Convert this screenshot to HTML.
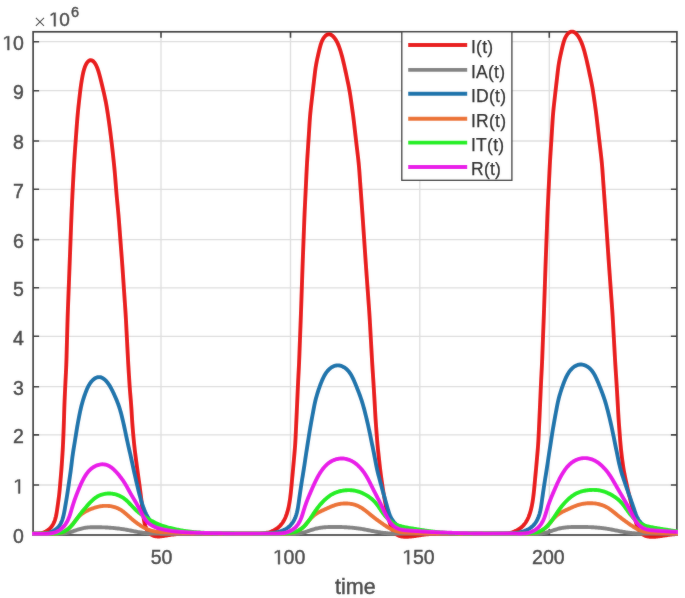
<!DOCTYPE html>
<html><head><meta charset="utf-8"><style>
html,body{margin:0;padding:0;background:#fff;overflow:hidden;}
body{width:685px;height:598px;font-family:"Liberation Sans", sans-serif;}
svg{display:block;will-change:transform;}
text{stroke:#404040;stroke-width:0.45px;}
.one{stroke:#404040;stroke-width:0.4px;vector-effect:non-scaling-stroke;}
</style></head><body>
<svg width="685" height="598" viewBox="0 0 685 598" font-family='"Liberation Sans", sans-serif' fill="#404040"><defs><filter id="fb" x="0" y="0" width="685" height="598" filterUnits="userSpaceOnUse"><feGaussianBlur stdDeviation="0.80"/></filter></defs><g id="main"><rect x="0" y="0" width="685" height="598" fill="#ffffff"/>
<path d="M33.10,485.00H676.90 M33.10,434.90H676.90 M33.10,386.70H676.90 M33.10,336.30H676.90 M33.10,287.80H676.90 M33.10,239.60H676.90 M33.10,189.30H676.90 M33.10,141.00H676.90 M33.10,90.70H676.90 M33.10,41.70H676.90 M161.00,31.80V535.00 M290.50,31.80V535.00 M419.80,31.80V535.00 M549.30,31.80V535.00" stroke="#dddddd" stroke-width="1.3" fill="none"/>
<path d="M33.10,533.90h6.00 M676.90,533.90h-6.00 M33.10,485.00h6.00 M676.90,485.00h-6.00 M33.10,434.90h6.00 M676.90,434.90h-6.00 M33.10,386.70h6.00 M676.90,386.70h-6.00 M33.10,336.30h6.00 M676.90,336.30h-6.00 M33.10,287.80h6.00 M676.90,287.80h-6.00 M33.10,239.60h6.00 M676.90,239.60h-6.00 M33.10,189.30h6.00 M676.90,189.30h-6.00 M33.10,141.00h6.00 M676.90,141.00h-6.00 M33.10,90.70h6.00 M676.90,90.70h-6.00 M33.10,41.70h6.00 M676.90,41.70h-6.00 M161.00,535.00v-6.00 M161.00,31.80v6.00 M290.50,535.00v-6.00 M290.50,31.80v6.00 M419.80,535.00v-6.00 M419.80,31.80v6.00 M549.30,535.00v-6.00 M549.30,31.80v6.00" stroke="#333333" stroke-width="1.6" fill="none"/>
<rect x="33.10" y="31.80" width="643.80" height="503.20" fill="none" stroke="#333333" stroke-width="1.7"/>
<clipPath id="c"><rect x="32.10" y="0" width="645.80" height="598"/></clipPath>
<path clip-path="url(#c)" d="M32.89,533.42L33.94,533.53L34.99,533.59L36.04,533.62L37.08,533.60L38.11,533.54L39.13,533.44L40.13,533.29L41.12,533.09L42.09,532.85L43.05,532.56L43.98,532.22L44.88,531.83L45.76,531.40L46.61,530.93L47.44,530.40L48.22,529.84L48.98,529.23L49.70,528.58L50.39,527.90L51.03,527.18L51.64,526.42L52.21,525.63L52.74,524.81L53.24,523.96L53.69,523.08L54.11,522.18L54.49,521.27L54.83,520.33L55.14,519.38L55.43,518.42L55.68,517.45L55.92,516.48L56.13,515.49L56.33,514.51L56.51,513.52L56.68,512.52L56.84,511.53L57.00,510.53L57.15,509.54L57.29,508.54L57.44,507.55L57.58,506.56L57.72,505.56L57.86,504.57L58.00,503.58L58.14,502.58L58.28,501.59L58.41,500.60L58.54,499.61L58.67,498.61L58.80,497.62L58.92,496.63L59.04,495.64L59.16,494.64L59.27,493.65L59.38,492.65L59.48,491.66L59.58,490.66L59.68,489.67L59.77,488.67L59.86,487.67L59.95,486.68L60.04,485.68L60.13,484.68L60.21,483.69L60.30,482.69L60.38,481.69L60.47,480.70L60.55,479.70L60.64,478.70L60.72,477.70L60.81,476.71L60.89,475.71L60.98,474.71L61.06,473.72L61.14,472.72L61.23,471.72L61.31,470.72L61.39,469.73L61.46,468.73L61.54,467.73L61.61,466.73L61.68,465.74L61.76,464.74L61.82,463.74L61.89,462.74L61.96,461.74L62.03,460.74L62.09,459.75L62.16,458.75L62.22,457.75L62.29,456.75L62.35,455.75L62.42,454.75L62.48,453.75L62.54,452.75L62.60,451.76L62.66,450.76L62.72,449.76L62.77,448.76L62.83,447.76L62.88,446.76L62.93,445.76L62.98,444.76L63.03,443.76L63.08,442.76L63.13,441.76L63.17,440.76L63.21,439.76L63.26,438.76L63.30,437.76L63.34,436.76L63.38,435.77L63.42,434.77L63.46,433.77L63.50,432.77L63.54,431.77L63.57,430.77L63.61,429.77L63.65,428.77L63.69,427.77L63.72,426.77L63.76,425.77L63.79,424.77L63.83,423.77L63.86,422.77L63.89,421.77L63.92,420.77L63.96,419.76L63.99,418.76L64.02,417.76L64.05,416.76L64.08,415.76L64.11,414.76L64.14,413.76L64.17,412.76L64.20,411.76L64.23,410.76L64.26,409.76L64.29,408.76L64.32,407.76L64.36,406.76L64.39,405.76L64.43,404.76L64.47,403.76L64.51,402.76L64.55,401.76L64.59,400.76L64.63,399.76L64.68,398.76L64.72,397.76L64.76,396.76L64.81,395.76L64.85,394.77L64.90,393.77L64.95,392.77L64.99,391.77L65.04,390.77L65.08,389.77L65.13,388.77L65.18,387.77L65.22,386.77L65.27,385.77L65.32,384.77L65.37,383.77L65.42,382.77L65.46,381.77L65.51,380.77L65.56,379.77L65.61,378.77L65.67,377.77L65.72,376.77L65.77,375.77L65.82,374.77L65.87,373.78L65.92,372.78L65.97,371.78L66.01,370.78L66.06,369.78L66.11,368.78L66.15,367.78L66.19,366.78L66.24,365.78L66.27,364.78L66.31,363.78L66.35,362.78L66.38,361.78L66.42,360.78L66.45,359.78L66.48,358.78L66.51,357.78L66.54,356.78L66.57,355.78L66.59,354.78L66.62,353.78L66.65,352.78L66.67,351.78L66.70,350.78L66.73,349.78L66.76,348.78L66.78,347.78L66.81,346.78L66.84,345.78L66.87,344.78L66.89,343.77L66.92,342.77L66.95,341.77L66.98,340.77L67.01,339.77L67.03,338.77L67.06,337.77L67.09,336.77L67.12,335.77L67.15,334.77L67.17,333.77L67.20,332.77L67.23,331.77L67.26,330.77L67.28,329.77L67.31,328.77L67.34,327.77L67.37,326.77L67.40,325.77L67.42,324.77L67.45,323.77L67.48,322.77L67.51,321.77L67.54,320.77L67.57,319.77L67.60,318.77L67.63,317.77L67.66,316.77L67.69,315.77L67.72,314.77L67.76,313.77L67.79,312.77L67.83,311.77L67.86,310.77L67.90,309.77L67.93,308.77L67.97,307.77L68.01,306.77L68.05,305.77L68.09,304.77L68.12,303.77L68.16,302.77L68.20,301.77L68.24,300.77L68.28,299.77L68.32,298.77L68.35,297.77L68.39,296.77L68.43,295.77L68.47,294.77L68.51,293.77L68.54,292.77L68.58,291.77L68.62,290.77L68.66,289.77L68.70,288.77L68.73,287.77L68.77,286.77L68.81,285.77L68.85,284.77L68.89,283.77L68.92,282.77L68.96,281.77L69.00,280.77L69.04,279.77L69.08,278.77L69.11,277.77L69.15,276.77L69.19,275.77L69.23,274.77L69.27,273.77L69.30,272.77L69.34,271.77L69.38,270.77L69.42,269.77L69.46,268.77L69.49,267.77L69.53,266.77L69.57,265.77L69.61,264.77L69.65,263.77L69.68,262.77L69.72,261.77L69.76,260.77L69.80,259.77L69.84,258.77L69.87,257.77L69.91,256.77L69.95,255.77L69.99,254.77L70.03,253.77L70.06,252.77L70.10,251.77L70.14,250.77L70.18,249.77L70.22,248.77L70.25,247.77L70.29,246.77L70.33,245.77L70.37,244.77L70.41,243.77L70.44,242.77L70.48,241.77L70.52,240.77L70.56,239.77L70.60,238.77L70.63,237.77L70.67,236.77L70.71,235.77L70.75,234.77L70.79,233.77L70.82,232.77L70.86,231.77L70.90,230.77L70.94,229.77L70.98,228.77L71.01,227.77L71.05,226.77L71.09,225.77L71.13,224.77L71.16,223.77L71.20,222.77L71.24,221.77L71.28,220.77L71.32,219.77L71.36,218.77L71.40,217.77L71.44,216.77L71.48,215.77L71.52,214.77L71.56,213.77L71.60,212.77L71.65,211.77L71.69,210.77L71.73,209.77L71.78,208.77L71.82,207.77L71.87,206.77L71.91,205.77L71.96,204.77L72.00,203.78L72.05,202.78L72.09,201.78L72.14,200.78L72.18,199.78L72.23,198.78L72.28,197.78L72.33,196.78L72.37,195.78L72.42,194.78L72.47,193.78L72.52,192.78L72.57,191.78L72.63,190.78L72.68,189.78L72.73,188.78L72.78,187.78L72.84,186.78L72.89,185.78L72.94,184.78L72.99,183.79L73.05,182.79L73.10,181.79L73.15,180.79L73.21,179.79L73.26,178.79L73.31,177.79L73.37,176.79L73.42,175.79L73.47,174.79L73.53,173.79L73.58,172.79L73.63,171.79L73.69,170.79L73.74,169.79L73.80,168.80L73.86,167.80L73.91,166.80L73.97,165.80L74.03,164.80L74.09,163.80L74.15,162.80L74.22,161.80L74.28,160.80L74.34,159.80L74.41,158.80L74.47,157.81L74.54,156.81L74.61,155.81L74.67,154.81L74.74,153.81L74.81,152.81L74.88,151.81L74.95,150.81L75.02,149.82L75.09,148.82L75.16,147.82L75.23,146.82L75.31,145.82L75.38,144.82L75.45,143.82L75.52,142.83L75.60,141.83L75.67,140.83L75.74,139.83L75.82,138.83L75.89,137.83L75.96,136.83L76.03,135.83L76.11,134.84L76.18,133.84L76.25,132.84L76.33,131.84L76.40,130.84L76.47,129.84L76.54,128.84L76.62,127.84L76.69,126.84L76.76,125.84L76.84,124.84L76.91,123.85L76.99,122.85L77.07,121.85L77.15,120.85L77.23,119.85L77.31,118.85L77.39,117.85L77.48,116.85L77.57,115.85L77.65,114.85L77.75,113.85L77.84,112.86L77.93,111.86L78.03,110.86L78.13,109.86L78.23,108.86L78.33,107.86L78.44,106.86L78.54,105.86L78.65,104.86L78.76,103.86L78.87,102.87L78.98,101.87L79.09,100.87L79.20,99.87L79.31,98.87L79.43,97.87L79.54,96.86L79.66,95.86L79.77,94.86L79.89,93.86L80.01,92.86L80.13,91.86L80.25,90.86L80.38,89.85L80.51,88.85L80.64,87.85L80.78,86.84L80.92,85.84L81.06,84.84L81.21,83.83L81.36,82.83L81.52,81.82L81.68,80.81L81.85,79.80L82.02,78.78L82.20,77.76L82.39,76.73L82.58,75.70L82.79,74.65L83.01,73.61L83.25,72.55L83.50,71.49L83.78,70.43L84.08,69.37L84.41,68.32L84.77,67.28L85.16,66.26L85.59,65.27L86.06,64.32L86.56,63.44L87.10,62.63L87.68,61.90L88.28,61.29L88.92,60.80L89.57,60.44L90.24,60.24L90.92,60.20L91.60,60.32L92.27,60.59L92.92,61.01L93.56,61.57L94.18,62.23L94.76,63.00L95.32,63.85L95.84,64.76L96.32,65.72L96.78,66.71L97.20,67.74L97.60,68.77L97.96,69.82L98.31,70.87L98.63,71.92L98.94,72.96L99.23,74.00L99.51,75.03L99.78,76.06L100.05,77.07L100.30,78.08L100.56,79.08L100.80,80.08L101.05,81.08L101.30,82.07L101.54,83.06L101.78,84.04L102.02,85.03L102.26,86.02L102.50,87.00L102.73,87.98L102.97,88.96L103.20,89.95L103.43,90.93L103.66,91.91L103.88,92.89L104.11,93.87L104.33,94.85L104.54,95.83L104.76,96.81L104.97,97.79L105.17,98.78L105.37,99.76L105.57,100.74L105.76,101.73L105.94,102.71L106.13,103.70L106.30,104.68L106.48,105.67L106.65,106.65L106.81,107.64L106.97,108.63L107.13,109.62L107.29,110.61L107.45,111.60L107.60,112.59L107.75,113.58L107.90,114.57L108.05,115.56L108.19,116.55L108.34,117.54L108.49,118.53L108.63,119.52L108.77,120.51L108.91,121.50L109.05,122.49L109.19,123.48L109.33,124.47L109.47,125.46L109.60,126.46L109.74,127.45L109.87,128.44L110.00,129.43L110.13,130.42L110.26,131.42L110.38,132.41L110.51,133.40L110.63,134.40L110.75,135.39L110.87,136.38L111.00,137.38L111.12,138.37L111.23,139.36L111.35,140.36L111.47,141.35L111.59,142.34L111.71,143.34L111.83,144.33L111.94,145.32L112.06,146.32L112.17,147.31L112.29,148.31L112.40,149.30L112.51,150.30L112.62,151.29L112.73,152.28L112.84,153.28L112.95,154.27L113.06,155.27L113.17,156.26L113.27,157.26L113.38,158.25L113.48,159.25L113.59,160.24L113.69,161.24L113.80,162.23L113.90,163.23L114.00,164.23L114.10,165.22L114.20,166.22L114.30,167.21L114.39,168.21L114.49,169.20L114.58,170.20L114.67,171.20L114.76,172.19L114.85,173.19L114.93,174.19L115.02,175.18L115.10,176.18L115.18,177.18L115.26,178.18L115.34,179.17L115.42,180.17L115.50,181.17L115.58,182.17L115.65,183.16L115.73,184.16L115.81,185.16L115.89,186.16L115.97,187.15L116.05,188.15L116.13,189.15L116.21,190.15L116.29,191.14L116.38,192.14L116.46,193.14L116.55,194.14L116.63,195.13L116.72,196.13L116.81,197.13L116.90,198.12L116.99,199.12L117.09,200.11L117.18,201.11L117.28,202.11L117.37,203.10L117.47,204.10L117.56,205.10L117.66,206.09L117.75,207.09L117.84,208.08L117.94,209.08L118.03,210.08L118.12,211.07L118.21,212.07L118.30,213.07L118.39,214.06L118.48,215.06L118.56,216.06L118.64,217.05L118.73,218.05L118.81,219.05L118.88,220.05L118.96,221.04L119.04,222.04L119.12,223.04L119.19,224.04L119.27,225.04L119.34,226.03L119.42,227.03L119.49,228.03L119.57,229.03L119.64,230.02L119.72,231.02L119.80,232.02L119.87,233.02L119.95,234.02L120.02,235.01L120.10,236.01L120.17,237.01L120.25,238.01L120.32,239.00L120.40,240.00L120.48,241.00L120.55,242.00L120.63,243.00L120.70,243.99L120.78,244.99L120.86,245.99L120.93,246.99L121.01,247.98L121.08,248.98L121.16,249.98L121.24,250.98L121.31,251.98L121.39,252.97L121.46,253.97L121.54,254.97L121.62,255.97L121.69,256.96L121.77,257.96L121.84,258.96L121.92,259.96L121.99,260.96L122.07,261.95L122.14,262.95L122.21,263.95L122.28,264.95L122.36,265.95L122.43,266.94L122.50,267.94L122.57,268.94L122.64,269.94L122.71,270.94L122.77,271.94L122.84,272.93L122.91,273.93L122.98,274.93L123.05,275.93L123.11,276.93L123.18,277.93L123.25,278.92L123.32,279.92L123.38,280.92L123.45,281.92L123.52,282.92L123.59,283.92L123.65,284.91L123.72,285.91L123.79,286.91L123.86,287.91L123.93,288.91L123.99,289.91L124.06,290.90L124.13,291.90L124.20,292.90L124.27,293.90L124.33,294.90L124.40,295.90L124.47,296.89L124.54,297.89L124.61,298.89L124.67,299.89L124.74,300.89L124.81,301.89L124.88,302.88L124.95,303.88L125.02,304.88L125.09,305.88L125.15,306.88L125.22,307.88L125.29,308.87L125.35,309.87L125.42,310.87L125.48,311.87L125.55,312.87L125.61,313.87L125.67,314.87L125.73,315.87L125.79,316.86L125.84,317.86L125.90,318.86L125.95,319.86L126.01,320.86L126.06,321.86L126.11,322.86L126.17,323.86L126.22,324.86L126.27,325.86L126.32,326.86L126.37,327.86L126.42,328.85L126.47,329.85L126.53,330.85L126.58,331.85L126.63,332.85L126.68,333.85L126.73,334.85L126.78,335.85L126.84,336.85L126.89,337.85L126.94,338.85L126.99,339.85L127.04,340.85L127.10,341.85L127.15,342.85L127.20,343.84L127.25,344.84L127.30,345.84L127.36,346.84L127.41,347.84L127.46,348.84L127.51,349.84L127.56,350.84L127.61,351.84L127.66,352.84L127.72,353.84L127.77,354.84L127.82,355.84L127.87,356.84L127.92,357.84L127.98,358.83L128.03,359.83L128.08,360.83L128.14,361.83L128.19,362.83L128.25,363.83L128.31,364.83L128.37,365.83L128.43,366.83L128.49,367.83L128.55,368.82L128.61,369.82L128.67,370.82L128.73,371.82L128.79,372.82L128.86,373.82L128.92,374.82L128.98,375.82L129.05,376.81L129.11,377.81L129.18,378.81L129.24,379.81L129.30,380.81L129.37,381.81L129.43,382.81L129.50,383.80L129.57,384.80L129.63,385.80L129.70,386.80L129.77,387.80L129.85,388.80L129.92,389.79L130.00,390.79L130.08,391.79L130.16,392.79L130.24,393.78L130.32,394.78L130.41,395.78L130.49,396.77L130.57,397.77L130.66,398.77L130.74,399.77L130.82,400.76L130.91,401.76L130.98,402.76L131.06,403.76L131.14,404.75L131.21,405.75L131.28,406.75L131.35,407.75L131.42,408.75L131.48,409.74L131.54,410.74L131.60,411.74L131.67,412.74L131.72,413.74L131.78,414.74L131.84,415.74L131.90,416.74L131.96,417.74L132.02,418.73L132.09,419.73L132.15,420.73L132.21,421.73L132.28,422.73L132.35,423.73L132.43,424.72L132.50,425.72L132.58,426.72L132.66,427.72L132.74,428.71L132.82,429.71L132.90,430.71L132.99,431.71L133.08,432.70L133.16,433.70L133.25,434.70L133.34,435.69L133.43,436.69L133.53,437.69L133.62,438.68L133.71,439.68L133.81,440.67L133.90,441.67L134.00,442.67L134.10,443.66L134.20,444.66L134.31,445.65L134.42,446.65L134.53,447.64L134.64,448.64L134.75,449.63L134.87,450.62L134.99,451.62L135.11,452.61L135.23,453.60L135.36,454.60L135.48,455.59L135.61,456.58L135.74,457.57L135.87,458.57L136.00,459.56L136.13,460.55L136.26,461.54L136.40,462.53L136.53,463.53L136.66,464.52L136.80,465.51L136.93,466.50L137.07,467.49L137.20,468.48L137.34,469.47L137.48,470.47L137.61,471.46L137.75,472.45L137.88,473.44L138.02,474.43L138.16,475.42L138.29,476.41L138.43,477.40L138.57,478.40L138.70,479.39L138.83,480.38L138.97,481.37L139.10,482.36L139.23,483.35L139.36,484.35L139.50,485.34L139.63,486.33L139.76,487.32L139.89,488.32L140.02,489.31L140.14,490.30L140.27,491.29L140.40,492.28L140.53,493.28L140.66,494.27L140.78,495.26L140.91,496.26L141.04,497.25L141.16,498.24L141.28,499.23L141.41,500.23L141.53,501.22L141.65,502.21L141.77,503.21L141.89,504.20L142.01,505.19L142.12,506.19L142.24,507.18L142.36,508.18L142.48,509.17L142.60,510.17L142.72,511.16L142.84,512.16L142.97,513.15L143.09,514.15L143.22,515.15L143.36,516.15L143.50,517.14L143.65,518.14L143.81,519.14L143.98,520.14L144.17,521.14L144.37,522.14L144.59,523.13L144.82,524.12L145.09,525.10L145.38,526.07L145.70,527.03L146.06,527.96L146.46,528.87L146.89,529.76L147.37,530.60L147.90,531.41L148.47,532.17L149.09,532.88L149.76,533.53L150.47,534.12L151.23,534.64L152.03,535.10L152.87,535.49L153.74,535.81L154.65,536.06L155.58,536.25L156.53,536.37L157.50,536.44L158.48,536.46L159.48,536.43L160.48,536.36L161.48,536.26L162.49,536.13L163.50,535.98L164.50,535.82L165.51,535.65L166.51,535.47L167.51,535.30L168.51,535.13L169.51,534.97L170.51,534.82L171.50,534.68L172.50,534.56L173.49,534.44L174.49,534.34L175.48,534.26L176.48,534.18L177.48,534.12L178.48,534.06L179.48,534.02L180.48,533.98L181.48,533.95L182.48,533.92L183.48,533.90L184.48,533.88L185.48,533.86L186.48,533.85L187.48,533.84L188.48,533.83L189.48,533.82L190.48,533.81L191.48,533.80L192.48,533.79L193.49,533.78L194.49,533.78L195.49,533.77L196.49,533.77L197.49,533.76L198.49,533.76L199.49,533.75L200.49,533.75L201.49,533.75L202.49,533.74L203.49,533.74L204.49,533.74L205.49,533.73L206.49,533.73L207.50,533.73L208.50,533.72L209.50,533.72L210.50,533.72L211.50,533.71L212.50,533.71L213.50,533.71L214.50,533.70L215.00,533.70L216.00,533.70L217.00,533.70L218.00,533.70L219.00,533.70L220.00,533.70L221.00,533.70L222.00,533.70L223.00,533.70L224.01,533.70L225.01,533.70L226.01,533.70L227.01,533.70L228.01,533.70L229.01,533.70L230.01,533.70L231.01,533.70L232.01,533.70L233.01,533.70L234.01,533.70L235.01,533.70L236.01,533.70L237.01,533.70L238.01,533.70L239.01,533.71L240.01,533.71L241.02,533.71L242.02,533.71L243.02,533.71L244.02,533.71L245.02,533.71L246.02,533.71L247.02,533.71L248.02,533.71L249.02,533.71L250.03,533.71L251.03,533.72L252.03,533.72L253.03,533.72L254.04,533.71L255.04,533.71L256.05,533.70L257.05,533.69L258.05,533.67L259.06,533.64L260.06,533.60L261.06,533.54L262.06,533.47L263.06,533.37L264.05,533.26L265.04,533.12L266.02,532.96L267.00,532.76L267.97,532.54L268.93,532.28L269.88,531.99L270.82,531.67L271.75,531.31L272.66,530.91L273.55,530.49L274.43,530.02L275.29,529.52L276.13,528.99L276.95,528.43L277.74,527.83L278.50,527.20L279.24,526.54L279.95,525.85L280.62,525.13L281.27,524.38L281.88,523.61L282.47,522.81L283.02,521.99L283.54,521.14L284.03,520.28L284.50,519.40L284.94,518.50L285.35,517.59L285.74,516.67L286.10,515.74L286.45,514.79L286.78,513.85L287.08,512.89L287.37,511.93L287.65,510.96L287.91,509.99L288.15,509.02L288.39,508.05L288.61,507.07L288.81,506.09L289.01,505.10L289.20,504.12L289.37,503.13L289.54,502.15L289.70,501.16L289.85,500.17L290.00,499.18L290.14,498.19L290.27,497.19L290.39,496.20L290.51,495.21L290.63,494.21L290.74,493.22L290.85,492.22L290.96,491.23L291.06,490.23L291.16,489.24L291.26,488.24L291.35,487.24L291.45,486.25L291.54,485.25L291.63,484.26L291.73,483.26L291.82,482.26L291.91,481.27L292.00,480.27L292.10,479.27L292.19,478.28L292.29,477.28L292.38,476.29L292.48,475.29L292.57,474.29L292.67,473.30L292.76,472.30L292.85,471.31L292.95,470.31L293.04,469.31L293.13,468.32L293.22,467.32L293.31,466.32L293.40,465.33L293.49,464.33L293.58,463.33L293.67,462.34L293.76,461.34L293.85,460.34L293.93,459.35L294.02,458.35L294.11,457.35L294.20,456.36L294.29,455.36L294.38,454.36L294.46,453.37L294.55,452.37L294.64,451.37L294.72,450.38L294.80,449.38L294.88,448.38L294.96,447.38L295.04,446.39L295.11,445.39L295.18,444.39L295.24,443.39L295.30,442.39L295.36,441.40L295.42,440.40L295.47,439.40L295.53,438.40L295.58,437.40L295.63,436.40L295.67,435.40L295.72,434.40L295.77,433.40L295.82,432.40L295.86,431.40L295.91,430.40L295.95,429.40L296.00,428.40L296.05,427.40L296.10,426.40L296.14,425.41L296.19,424.41L296.24,423.41L296.28,422.41L296.33,421.41L296.38,420.41L296.42,419.41L296.47,418.41L296.52,417.41L296.56,416.41L296.61,415.41L296.65,414.41L296.70,413.41L296.74,412.41L296.79,411.41L296.83,410.41L296.88,409.41L296.92,408.41L296.97,407.41L297.01,406.41L297.06,405.41L297.10,404.42L297.15,403.42L297.19,402.42L297.24,401.42L297.28,400.42L297.33,399.42L297.37,398.42L297.42,397.42L297.46,396.42L297.51,395.42L297.55,394.42L297.59,393.42L297.64,392.42L297.68,391.42L297.73,390.42L297.77,389.42L297.82,388.42L297.86,387.42L297.91,386.42L297.96,385.42L298.00,384.42L298.05,383.42L298.10,382.42L298.14,381.43L298.19,380.43L298.24,379.43L298.29,378.43L298.35,377.43L298.40,376.43L298.45,375.43L298.50,374.43L298.55,373.43L298.61,372.43L298.66,371.43L298.71,370.43L298.76,369.43L298.81,368.43L298.86,367.44L298.91,366.44L298.96,365.44L299.00,364.44L299.05,363.44L299.09,362.44L299.13,361.44L299.17,360.44L299.21,359.44L299.25,358.44L299.29,357.44L299.33,356.44L299.37,355.44L299.41,354.44L299.44,353.44L299.48,352.44L299.52,351.44L299.56,350.44L299.59,349.44L299.63,348.44L299.67,347.44L299.71,346.44L299.74,345.44L299.78,344.44L299.82,343.44L299.86,342.44L299.90,341.44L299.93,340.44L299.97,339.44L300.01,338.44L300.05,337.44L300.09,336.44L300.12,335.44L300.16,334.44L300.20,333.44L300.24,332.44L300.28,331.44L300.31,330.44L300.35,329.44L300.39,328.44L300.43,327.44L300.47,326.44L300.50,325.44L300.54,324.44L300.58,323.44L300.62,322.44L300.66,321.44L300.69,320.44L300.73,319.44L300.77,318.44L300.80,317.44L300.84,316.44L300.88,315.44L300.91,314.44L300.95,313.44L300.98,312.44L301.02,311.44L301.05,310.44L301.09,309.44L301.12,308.44L301.16,307.44L301.19,306.44L301.23,305.44L301.26,304.44L301.29,303.44L301.33,302.44L301.36,301.44L301.40,300.44L301.43,299.44L301.46,298.44L301.50,297.44L301.53,296.44L301.56,295.44L301.60,294.44L301.63,293.44L301.67,292.44L301.70,291.44L301.73,290.44L301.77,289.44L301.80,288.44L301.84,287.44L301.87,286.44L301.90,285.44L301.94,284.44L301.97,283.44L302.01,282.44L302.04,281.44L302.07,280.44L302.11,279.44L302.14,278.44L302.18,277.44L302.21,276.44L302.24,275.44L302.28,274.44L302.31,273.44L302.35,272.44L302.38,271.44L302.41,270.44L302.45,269.44L302.48,268.44L302.52,267.44L302.55,266.44L302.59,265.44L302.63,264.44L302.66,263.45L302.70,262.45L302.74,261.45L302.77,260.45L302.81,259.45L302.85,258.45L302.89,257.45L302.92,256.45L302.96,255.45L303.00,254.45L303.04,253.45L303.08,252.45L303.11,251.45L303.15,250.45L303.19,249.45L303.23,248.45L303.27,247.45L303.30,246.45L303.34,245.45L303.38,244.45L303.42,243.45L303.46,242.45L303.49,241.45L303.53,240.45L303.57,239.45L303.61,238.45L303.65,237.45L303.68,236.45L303.72,235.45L303.76,234.45L303.80,233.45L303.84,232.45L303.87,231.45L303.91,230.45L303.95,229.45L303.99,228.45L304.02,227.45L304.06,226.45L304.10,225.45L304.14,224.45L304.18,223.45L304.21,222.45L304.25,221.45L304.29,220.45L304.33,219.45L304.37,218.45L304.41,217.45L304.45,216.45L304.50,215.45L304.54,214.45L304.58,213.45L304.63,212.45L304.67,211.45L304.72,210.45L304.76,209.45L304.81,208.46L304.86,207.46L304.91,206.46L304.95,205.46L305.00,204.46L305.05,203.46L305.10,202.46L305.15,201.46L305.20,200.46L305.24,199.46L305.29,198.46L305.34,197.46L305.39,196.46L305.44,195.46L305.49,194.46L305.53,193.46L305.58,192.46L305.63,191.46L305.68,190.47L305.73,189.47L305.77,188.47L305.82,187.47L305.87,186.47L305.92,185.47L305.97,184.47L306.01,183.47L306.06,182.47L306.11,181.47L306.16,180.47L306.20,179.47L306.25,178.47L306.30,177.47L306.34,176.47L306.39,175.47L306.44,174.47L306.49,173.47L306.54,172.48L306.59,171.48L306.64,170.48L306.69,169.48L306.74,168.48L306.79,167.48L306.84,166.48L306.90,165.48L306.95,164.48L307.01,163.48L307.07,162.48L307.13,161.49L307.19,160.49L307.25,159.49L307.31,158.49L307.38,157.49L307.44,156.49L307.50,155.49L307.57,154.49L307.63,153.50L307.70,152.50L307.76,151.50L307.83,150.50L307.89,149.50L307.95,148.50L308.02,147.51L308.08,146.51L308.15,145.51L308.21,144.51L308.28,143.51L308.34,142.51L308.40,141.51L308.47,140.52L308.53,139.52L308.59,138.52L308.66,137.52L308.72,136.52L308.79,135.52L308.85,134.52L308.91,133.53L308.98,132.53L309.04,131.53L309.10,130.53L309.16,129.53L309.22,128.53L309.29,127.53L309.35,126.53L309.41,125.54L309.47,124.54L309.54,123.54L309.60,122.54L309.67,121.54L309.74,120.54L309.81,119.55L309.88,118.55L309.96,117.55L310.04,116.55L310.12,115.56L310.21,114.56L310.30,113.56L310.40,112.57L310.50,111.57L310.60,110.58L310.70,109.58L310.81,108.59L310.91,107.59L311.02,106.60L311.14,105.60L311.25,104.61L311.36,103.61L311.47,102.62L311.59,101.63L311.70,100.63L311.81,99.64L311.92,98.64L312.04,97.65L312.15,96.65L312.26,95.66L312.38,94.66L312.49,93.67L312.60,92.67L312.72,91.68L312.83,90.69L312.95,89.69L313.06,88.70L313.18,87.70L313.30,86.71L313.41,85.71L313.53,84.72L313.65,83.72L313.76,82.73L313.88,81.74L313.99,80.74L314.11,79.75L314.22,78.75L314.34,77.76L314.46,76.76L314.57,75.76L314.69,74.77L314.81,73.77L314.93,72.78L315.05,71.79L315.18,70.79L315.32,69.80L315.45,68.81L315.60,67.82L315.75,66.83L315.91,65.84L316.08,64.85L316.26,63.86L316.44,62.87L316.63,61.89L316.83,60.90L317.04,59.92L317.25,58.93L317.46,57.94L317.68,56.96L317.90,55.97L318.12,54.98L318.34,53.99L318.57,52.99L318.80,51.99L319.03,50.99L319.27,49.98L319.52,48.96L319.77,47.94L320.04,46.92L320.32,45.89L320.62,44.87L320.95,43.85L321.30,42.83L321.68,41.83L322.10,40.84L322.55,39.88L323.05,38.96L323.58,38.08L324.16,37.26L324.78,36.51L325.43,35.85L326.12,35.28L326.85,34.84L327.59,34.52L328.36,34.34L329.13,34.30L329.91,34.41L330.68,34.67L331.44,35.06L332.19,35.57L332.91,36.18L333.60,36.88L334.27,37.66L334.90,38.49L335.50,39.37L336.06,40.29L336.60,41.23L337.10,42.19L337.57,43.16L338.01,44.14L338.43,45.13L338.83,46.11L339.20,47.10L339.56,48.08L339.89,49.06L340.22,50.04L340.52,51.01L340.82,51.99L341.11,52.96L341.39,53.94L341.65,54.91L341.92,55.88L342.17,56.85L342.42,57.83L342.67,58.80L342.91,59.78L343.15,60.75L343.39,61.73L343.62,62.71L343.85,63.68L344.07,64.66L344.30,65.64L344.52,66.61L344.74,67.59L344.95,68.57L345.17,69.55L345.38,70.52L345.59,71.50L345.81,72.48L346.02,73.46L346.22,74.44L346.43,75.42L346.64,76.40L346.85,77.38L347.06,78.36L347.27,79.33L347.47,80.31L347.68,81.29L347.89,82.27L348.09,83.25L348.29,84.23L348.49,85.21L348.68,86.19L348.87,87.18L349.06,88.16L349.24,89.14L349.42,90.13L349.59,91.11L349.76,92.10L349.92,93.08L350.08,94.07L350.23,95.06L350.39,96.05L350.53,97.04L350.68,98.03L350.82,99.02L350.97,100.01L351.11,101.00L351.25,101.99L351.39,102.98L351.53,103.97L351.67,104.96L351.81,105.95L351.95,106.94L352.09,107.93L352.23,108.93L352.37,109.92L352.51,110.91L352.64,111.90L352.78,112.89L352.91,113.88L353.04,114.87L353.17,115.87L353.30,116.86L353.42,117.85L353.54,118.84L353.66,119.84L353.78,120.83L353.90,121.82L354.02,122.82L354.13,123.81L354.25,124.81L354.36,125.80L354.48,126.79L354.59,127.79L354.70,128.78L354.82,129.78L354.93,130.77L355.05,131.76L355.16,132.76L355.28,133.75L355.39,134.75L355.51,135.74L355.62,136.73L355.74,137.73L355.85,138.72L355.97,139.72L356.08,140.71L356.20,141.70L356.31,142.70L356.43,143.69L356.54,144.69L356.66,145.68L356.78,146.67L356.89,147.67L357.01,148.66L357.13,149.65L357.24,150.65L357.36,151.64L357.48,152.64L357.59,153.63L357.71,154.62L357.83,155.62L357.94,156.61L358.06,157.61L358.17,158.60L358.28,159.59L358.39,160.59L358.49,161.58L358.60,162.58L358.70,163.57L358.79,164.57L358.89,165.57L358.98,166.56L359.06,167.56L359.15,168.56L359.23,169.55L359.31,170.55L359.38,171.55L359.46,172.55L359.53,173.54L359.60,174.54L359.67,175.54L359.74,176.54L359.81,177.54L359.88,178.53L359.95,179.53L360.02,180.53L360.09,181.53L360.16,182.53L360.24,183.52L360.31,184.52L360.38,185.52L360.45,186.52L360.52,187.52L360.59,188.51L360.66,189.51L360.74,190.51L360.81,191.51L360.88,192.51L360.95,193.50L361.02,194.50L361.10,195.50L361.17,196.50L361.24,197.50L361.31,198.49L361.38,199.49L361.46,200.49L361.53,201.49L361.60,202.49L361.67,203.48L361.74,204.48L361.82,205.48L361.89,206.48L361.96,207.48L362.03,208.47L362.10,209.47L362.17,210.47L362.24,211.47L362.32,212.47L362.39,213.46L362.46,214.46L362.53,215.46L362.60,216.46L362.66,217.46L362.73,218.46L362.80,219.45L362.87,220.45L362.94,221.45L363.01,222.45L363.08,223.45L363.14,224.44L363.21,225.44L363.28,226.44L363.35,227.44L363.41,228.44L363.48,229.44L363.55,230.43L363.62,231.43L363.69,232.43L363.75,233.43L363.82,234.43L363.89,235.43L363.96,236.42L364.02,237.42L364.09,238.42L364.16,239.42L364.23,240.42L364.30,241.42L364.36,242.41L364.43,243.41L364.50,244.41L364.57,245.41L364.64,246.41L364.70,247.41L364.77,248.40L364.84,249.40L364.91,250.40L364.97,251.40L365.04,252.40L365.11,253.40L365.18,254.39L365.25,255.39L365.31,256.39L365.38,257.39L365.45,258.39L365.52,259.38L365.59,260.38L365.65,261.38L365.72,262.38L365.79,263.38L365.86,264.38L365.93,265.37L366.00,266.37L366.07,267.37L366.14,268.37L366.21,269.37L366.29,270.36L366.36,271.36L366.43,272.36L366.50,273.36L366.57,274.36L366.64,275.35L366.72,276.35L366.79,277.35L366.86,278.35L366.93,279.35L367.00,280.34L367.08,281.34L367.15,282.34L367.22,283.34L367.29,284.34L367.36,285.33L367.44,286.33L367.51,287.33L367.58,288.33L367.65,289.33L367.72,290.32L367.80,291.32L367.87,292.32L367.94,293.32L368.01,294.32L368.08,295.31L368.16,296.31L368.23,297.31L368.30,298.31L368.37,299.31L368.44,300.30L368.52,301.30L368.59,302.30L368.66,303.30L368.73,304.30L368.81,305.29L368.88,306.29L368.95,307.29L369.02,308.29L369.09,309.29L369.16,310.28L369.23,311.28L369.30,312.28L369.36,313.28L369.43,314.28L369.49,315.28L369.56,316.27L369.62,317.27L369.68,318.27L369.74,319.27L369.80,320.27L369.85,321.27L369.91,322.27L369.97,323.27L370.02,324.27L370.08,325.26L370.14,326.26L370.19,327.26L370.25,328.26L370.30,329.26L370.36,330.26L370.41,331.26L370.47,332.26L370.52,333.26L370.58,334.26L370.63,335.25L370.69,336.25L370.75,337.25L370.80,338.25L370.86,339.25L370.91,340.25L370.97,341.25L371.03,342.25L371.08,343.25L371.14,344.25L371.19,345.25L371.25,346.24L371.30,347.24L371.36,348.24L371.42,349.24L371.47,350.24L371.53,351.24L371.58,352.24L371.64,353.24L371.69,354.24L371.75,355.24L371.81,356.23L371.86,357.23L371.92,358.23L371.98,359.23L372.03,360.23L372.09,361.23L372.15,362.23L372.21,363.23L372.27,364.23L372.33,365.22L372.39,366.22L372.46,367.22L372.52,368.22L372.58,369.22L372.65,370.22L372.71,371.22L372.78,372.21L372.85,373.21L372.91,374.21L372.98,375.21L373.04,376.21L373.11,377.21L373.17,378.20L373.24,379.20L373.30,380.20L373.36,381.20L373.43,382.20L373.49,383.20L373.55,384.20L373.61,385.19L373.67,386.19L373.73,387.19L373.79,388.19L373.86,389.19L373.92,390.19L373.97,391.19L374.03,392.19L374.09,393.18L374.15,394.18L374.21,395.18L374.27,396.18L374.33,397.18L374.39,398.18L374.44,399.18L374.50,400.18L374.56,401.18L374.62,402.18L374.67,403.17L374.73,404.17L374.78,405.17L374.84,406.17L374.89,407.17L374.95,408.17L375.00,409.17L375.05,410.17L375.11,411.17L375.16,412.17L375.22,413.16L375.28,414.16L375.33,415.16L375.39,416.16L375.45,417.16L375.51,418.16L375.58,419.16L375.64,420.16L375.71,421.15L375.78,422.15L375.85,423.15L375.92,424.15L375.99,425.15L376.06,426.14L376.13,427.14L376.21,428.14L376.28,429.14L376.36,430.14L376.43,431.13L376.51,432.13L376.58,433.13L376.66,434.13L376.74,435.12L376.81,436.12L376.89,437.12L376.97,438.12L377.05,439.11L377.13,440.11L377.21,441.11L377.29,442.11L377.38,443.10L377.47,444.10L377.56,445.10L377.66,446.09L377.75,447.09L377.85,448.08L377.95,449.08L378.05,450.07L378.16,451.07L378.26,452.06L378.37,453.06L378.48,454.05L378.58,455.05L378.69,456.04L378.80,457.04L378.91,458.03L379.01,459.03L379.12,460.02L379.23,461.02L379.34,462.01L379.44,463.01L379.55,464.00L379.66,465.00L379.78,465.99L379.89,466.98L380.01,467.98L380.12,468.97L380.25,469.96L380.37,470.96L380.49,471.95L380.62,472.94L380.75,473.93L380.88,474.93L381.02,475.92L381.15,476.91L381.29,477.90L381.43,478.89L381.56,479.88L381.70,480.87L381.84,481.86L381.98,482.85L382.12,483.85L382.27,484.84L382.41,485.83L382.56,486.82L382.71,487.81L382.86,488.79L383.01,489.78L383.17,490.77L383.33,491.76L383.49,492.75L383.66,493.73L383.82,494.72L384.00,495.70L384.17,496.69L384.35,497.67L384.53,498.66L384.71,499.64L384.89,500.63L385.08,501.61L385.26,502.59L385.45,503.58L385.64,504.56L385.83,505.54L386.02,506.52L386.21,507.51L386.41,508.49L386.60,509.47L386.81,510.45L387.01,511.43L387.22,512.41L387.43,513.39L387.65,514.37L387.87,515.35L388.10,516.32L388.34,517.30L388.58,518.28L388.83,519.26L389.08,520.25L389.35,521.23L389.62,522.21L389.91,523.18L390.21,524.16L390.53,525.12L390.87,526.08L391.24,527.02L391.62,527.95L392.04,528.85L392.49,529.73L392.98,530.57L393.51,531.38L394.07,532.13L394.69,532.84L395.34,533.50L396.04,534.09L396.79,534.63L397.57,535.10L398.40,535.51L399.26,535.85L400.16,536.14L401.09,536.37L402.04,536.55L403.01,536.67L404.00,536.75L405.00,536.80L406.00,536.81L407.02,536.79L408.03,536.74L409.05,536.67L410.06,536.59L411.07,536.48L412.08,536.37L413.09,536.24L414.10,536.11L415.10,535.97L416.09,535.82L417.09,535.67L418.08,535.51L419.07,535.36L420.06,535.21L421.05,535.06L422.04,534.92L423.03,534.78L424.02,534.66L425.01,534.54L426.01,534.43L427.00,534.33L428.00,534.24L428.99,534.17L429.99,534.10L430.99,534.04L431.98,534.00L432.98,533.96L433.98,533.93L434.98,533.90L435.98,533.88L436.98,533.87L437.98,533.85L438.99,533.84L439.99,533.83L440.99,533.82L441.99,533.81L442.99,533.81L443.99,533.80L444.99,533.79L445.99,533.79L446.99,533.78L447.99,533.77L448.99,533.77L449.99,533.76L450.99,533.76L452.00,533.75L453.00,533.74L454.00,533.74L455.00,533.73L456.00,533.72L457.00,533.72L458.00,533.71L459.00,533.71L460.00,533.70L492.98,533.59L493.99,533.62L495.00,533.65L496.01,533.68L497.01,533.71L498.02,533.73L499.03,533.75L500.04,533.75L501.05,533.75L502.06,533.73L503.07,533.70L504.07,533.64L505.07,533.57L506.07,533.47L507.06,533.35L508.05,533.20L509.03,533.02L510.00,532.81L510.97,532.58L511.93,532.31L512.87,532.01L513.81,531.68L514.73,531.31L515.64,530.91L516.53,530.48L517.41,530.02L518.27,529.52L519.11,528.98L519.92,528.42L520.71,527.82L521.47,527.19L522.21,526.53L522.92,525.84L523.59,525.12L524.24,524.37L524.85,523.59L525.44,522.80L525.99,521.97L526.51,521.13L527.00,520.27L527.47,519.38L527.90,518.49L528.32,517.58L528.71,516.66L529.07,515.72L529.42,514.78L529.74,513.83L530.05,512.88L530.34,511.92L530.62,510.95L530.88,509.98L531.12,509.01L531.36,508.03L531.58,507.05L531.79,506.07L531.98,505.09L532.17,504.11L532.35,503.12L532.52,502.14L532.68,501.15L532.83,500.16L532.97,499.17L533.11,498.18L533.24,497.18L533.37,496.19L533.49,495.20L533.61,494.20L533.72,493.21L533.83,492.21L533.93,491.22L534.04,490.22L534.14,489.23L534.23,488.23L534.33,487.23L534.42,486.24L534.52,485.24L534.61,484.25L534.70,483.25L534.79,482.25L534.89,481.26L534.98,480.26L535.07,479.26L535.16,478.27L535.26,477.27L535.35,476.28L535.45,475.28L535.54,474.28L535.64,473.29L535.73,472.29L535.82,471.29L535.92,470.30L536.01,469.30L536.10,468.31L536.19,467.31L536.28,466.31L536.37,465.32L536.46,464.32L536.55,463.32L536.64,462.33L536.72,461.33L536.81,460.33L536.90,459.34L536.99,458.34L537.08,457.34L537.16,456.35L537.25,455.35L537.34,454.35L537.43,453.36L537.51,452.36L537.60,451.36L537.68,450.37L537.77,449.37L537.85,448.37L537.93,447.37L538.00,446.38L538.08,445.38L538.14,444.38L538.21,443.38L538.27,442.38L538.34,441.39L538.39,440.39L538.45,439.39L538.50,438.39L538.55,437.39L538.60,436.39L538.65,435.39L538.70,434.39L538.74,433.39L538.79,432.39L538.84,431.39L538.88,430.39L538.93,429.40L538.98,428.40L539.02,427.40L539.07,426.40L539.12,425.40L539.16,424.40L539.21,423.40L539.26,422.40L539.30,421.40L539.35,420.40L539.39,419.40L539.44,418.40L539.49,417.40L539.53,416.40L539.58,415.40L539.62,414.40L539.67,413.40L539.71,412.40L539.76,411.40L539.80,410.40L539.85,409.41L539.89,408.41L539.94,407.41L539.98,406.41L540.03,405.41L540.07,404.41L540.12,403.41L540.16,402.41L540.20,401.41L540.25,400.41L540.29,399.41L540.34,398.41L540.38,397.41L540.43,396.41L540.47,395.41L540.52,394.41L540.56,393.41L540.61,392.41L540.65,391.41L540.69,390.41L540.74,389.41L540.78,388.41L540.83,387.42L540.87,386.42L540.92,385.42L540.96,384.42L541.01,383.42L541.06,382.42L541.11,381.42L541.15,380.42L541.20,379.42L541.25,378.42L541.30,377.42L541.35,376.42L541.40,375.42L541.46,374.42L541.51,373.42L541.56,372.43L541.61,371.43L541.66,370.43L541.72,369.43L541.77,368.43L541.82,367.43L541.87,366.43L541.91,365.43L541.96,364.43L542.01,363.43L542.05,362.43L542.09,361.43L542.13,360.43L542.18,359.43L542.22,358.43L542.26,357.43L542.29,356.43L542.33,355.43L542.37,354.43L542.41,353.43L542.44,352.43L542.48,351.43L542.52,350.43L542.56,349.43L542.59,348.44L542.63,347.44L542.67,346.44L542.71,345.44L542.74,344.44L542.78,343.44L542.82,342.44L542.86,341.44L542.89,340.44L542.93,339.44L542.97,338.44L543.01,337.44L543.05,336.44L543.08,335.44L543.12,334.44L543.16,333.44L543.20,332.44L543.23,331.44L543.27,330.44L543.31,329.44L543.35,328.44L543.39,327.44L543.42,326.44L543.46,325.44L543.50,324.44L543.54,323.44L543.58,322.44L543.61,321.44L543.65,320.44L543.69,319.44L543.73,318.44L543.76,317.44L543.80,316.44L543.84,315.44L543.87,314.44L543.91,313.44L543.94,312.44L543.98,311.44L544.01,310.44L544.05,309.44L544.08,308.44L544.12,307.44L544.15,306.44L544.18,305.44L544.22,304.44L544.25,303.44L544.29,302.44L544.32,301.44L544.35,300.44L544.39,299.44L544.42,298.44L544.45,297.44L544.49,296.44L544.52,295.44L544.56,294.44L544.59,293.44L544.62,292.44L544.66,291.44L544.69,290.44L544.72,289.44L544.76,288.44L544.79,287.44L544.83,286.44L544.86,285.44L544.89,284.44L544.93,283.44L544.96,282.44L544.99,281.44L545.03,280.44L545.06,279.44L545.10,278.44L545.13,277.44L545.16,276.44L545.20,275.44L545.23,274.44L545.26,273.44L545.30,272.44L545.33,271.44L545.37,270.44L545.40,269.44L545.43,268.44L545.47,267.44L545.50,266.44L545.54,265.44L545.57,264.44L545.61,263.44L545.65,262.44L545.68,261.44L545.72,260.44L545.76,259.44L545.79,258.44L545.83,257.44L545.87,256.44L545.91,255.44L545.94,254.44L545.98,253.44L546.02,252.44L546.06,251.44L546.09,250.44L546.13,249.45L546.17,248.45L546.21,247.45L546.25,246.45L546.28,245.45L546.32,244.45L546.36,243.45L546.40,242.45L546.44,241.45L546.47,240.45L546.51,239.45L546.55,238.45L546.59,237.45L546.62,236.45L546.66,235.45L546.70,234.45L546.74,233.45L546.78,232.45L546.81,231.45L546.85,230.45L546.89,229.45L546.93,228.45L546.96,227.45L547.00,226.45L547.04,225.45L547.07,224.45L547.11,223.45L547.15,222.45L547.19,221.45L547.23,220.45L547.26,219.45L547.30,218.45L547.34,217.45L547.38,216.45L547.42,215.45L547.47,214.45L547.51,213.45L547.55,212.45L547.59,211.45L547.64,210.45L547.68,209.45L547.73,208.45L547.78,207.45L547.82,206.46L547.87,205.46L547.92,204.46L547.97,203.46L548.01,202.46L548.06,201.46L548.11,200.46L548.16,199.46L548.21,198.46L548.25,197.46L548.30,196.46L548.35,195.46L548.40,194.46L548.45,193.46L548.49,192.46L548.54,191.46L548.59,190.47L548.64,189.47L548.68,188.47L548.73,187.47L548.78,186.47L548.83,185.47L548.88,184.47L548.92,183.47L548.97,182.47L549.02,181.47L549.07,180.47L549.11,179.47L549.16,178.47L549.21,177.47L549.25,176.47L549.30,175.47L549.35,174.47L549.40,173.48L549.44,172.48L549.49,171.48L549.54,170.48L549.59,169.48L549.64,168.48L549.69,167.48L549.74,166.48L549.79,165.48L549.84,164.48L549.90,163.48L549.95,162.48L550.01,161.48L550.07,160.49L550.13,159.49L550.19,158.49L550.25,157.49L550.31,156.49L550.37,155.49L550.44,154.49L550.50,153.50L550.56,152.50L550.63,151.50L550.69,150.50L550.76,149.50L550.82,148.50L550.88,147.50L550.95,146.51L551.01,145.51L551.08,144.51L551.14,143.51L551.20,142.51L551.27,141.51L551.33,140.51L551.40,139.52L551.46,138.52L551.52,137.52L551.59,136.52L551.65,135.52L551.71,134.52L551.78,133.53L551.84,132.53L551.90,131.53L551.96,130.53L552.03,129.53L552.09,128.53L552.15,127.53L552.21,126.53L552.27,125.54L552.34,124.54L552.40,123.54L552.46,122.54L552.52,121.54L552.59,120.54L552.65,119.54L552.72,118.55L552.79,117.55L552.86,116.55L552.94,115.55L553.02,114.56L553.10,113.56L553.19,112.56L553.28,111.57L553.37,110.57L553.47,109.57L553.57,108.58L553.67,107.58L553.77,106.59L553.88,105.59L553.99,104.60L554.10,103.60L554.21,102.61L554.32,101.62L554.44,100.62L554.55,99.63L554.66,98.63L554.77,97.64L554.88,96.64L555.00,95.65L555.11,94.65L555.22,93.66L555.33,92.66L555.45,91.67L555.56,90.68L555.67,89.68L555.79,88.69L555.90,87.69L556.02,86.70L556.13,85.70L556.25,84.71L556.36,83.71L556.48,82.72L556.60,81.73L556.71,80.73L556.83,79.74L556.94,78.74L557.06,77.75L557.17,76.75L557.29,75.76L557.40,74.76L557.52,73.77L557.63,72.77L557.75,71.78L557.87,70.78L557.99,69.79L558.12,68.79L558.25,67.80L558.38,66.81L558.52,65.81L558.67,64.82L558.83,63.83L558.99,62.84L559.16,61.86L559.34,60.87L559.53,59.88L559.72,58.90L559.92,57.91L560.13,56.92L560.34,55.94L560.55,54.95L560.77,53.96L560.99,52.98L561.21,51.98L561.44,50.99L561.66,49.99L561.89,48.99L562.12,47.99L562.36,46.97L562.61,45.96L562.87,44.94L563.14,43.91L563.43,42.89L563.73,41.86L564.07,40.84L564.43,39.82L564.82,38.82L565.24,37.84L565.71,36.89L566.22,35.98L566.76,35.12L567.35,34.32L567.98,33.59L568.65,32.96L569.35,32.43L570.08,32.02L570.83,31.74L571.59,31.60L572.37,31.61L573.15,31.77L573.91,32.07L574.67,32.50L575.41,33.04L576.12,33.69L576.80,34.42L577.46,35.21L578.08,36.06L578.66,36.96L579.22,37.88L579.74,38.83L580.23,39.80L580.69,40.78L581.13,41.76L581.54,42.74L581.92,43.73L582.29,44.71L582.64,45.70L582.97,46.68L583.29,47.65L583.59,48.63L583.89,49.61L584.17,50.58L584.44,51.55L584.71,52.53L584.97,53.50L585.22,54.47L585.47,55.45L585.72,56.42L585.96,57.40L586.19,58.37L586.43,59.35L586.66,60.33L586.88,61.30L587.11,62.28L587.33,63.26L587.55,64.23L587.77,65.21L587.98,66.19L588.20,67.17L588.41,68.15L588.62,69.13L588.83,70.10L589.04,71.08L589.25,72.06L589.45,73.04L589.66,74.02L589.87,75.00L590.08,75.98L590.28,76.96L590.49,77.94L590.70,78.92L590.90,79.90L591.10,80.88L591.30,81.86L591.50,82.84L591.69,83.82L591.88,84.80L592.07,85.78L592.25,86.77L592.43,87.75L592.60,88.74L592.76,89.72L592.92,90.71L593.08,91.70L593.23,92.69L593.38,93.68L593.53,94.67L593.68,95.66L593.82,96.65L593.96,97.64L594.10,98.63L594.24,99.62L594.38,100.61L594.52,101.60L594.66,102.59L594.80,103.58L594.94,104.57L595.08,105.56L595.22,106.55L595.36,107.54L595.50,108.53L595.63,109.53L595.77,110.52L595.90,111.51L596.03,112.50L596.16,113.49L596.28,114.49L596.40,115.48L596.53,116.47L596.65,117.47L596.76,118.46L596.88,119.45L597.00,120.45L597.11,121.44L597.23,122.43L597.34,123.43L597.46,124.42L597.57,125.42L597.68,126.41L597.80,127.40L597.91,128.40L598.02,129.39L598.14,130.39L598.25,131.38L598.37,132.37L598.48,133.37L598.60,134.36L598.71,135.36L598.82,136.35L598.94,137.34L599.05,138.34L599.17,139.33L599.28,140.33L599.40,141.32L599.51,142.31L599.63,143.31L599.74,144.30L599.86,145.30L599.97,146.29L600.09,147.28L600.21,148.28L600.32,149.27L600.44,150.26L600.56,151.26L600.67,152.25L600.79,153.25L600.90,154.24L601.02,155.23L601.13,156.23L601.24,157.22L601.35,158.22L601.46,159.21L601.56,160.21L601.66,161.20L601.76,162.20L601.85,163.19L601.94,164.19L602.03,165.19L602.11,166.18L602.20,167.18L602.27,168.18L602.35,169.17L602.43,170.17L602.50,171.17L602.57,172.17L602.64,173.17L602.71,174.16L602.78,175.16L602.85,176.16L602.92,177.16L602.99,178.16L603.06,179.15L603.13,180.15L603.20,181.15L603.27,182.15L603.34,183.15L603.41,184.15L603.49,185.14L603.56,186.14L603.63,187.14L603.70,188.14L603.77,189.13L603.84,190.13L603.91,191.13L603.99,192.13L604.06,193.13L604.13,194.12L604.20,195.12L604.27,196.12L604.34,197.12L604.41,198.12L604.49,199.11L604.56,200.11L604.63,201.11L604.70,202.11L604.77,203.11L604.84,204.10L604.92,205.10L604.99,206.10L605.06,207.10L605.13,208.10L605.20,209.09L605.27,210.09L605.34,211.09L605.41,212.09L605.48,213.09L605.55,214.09L605.62,215.08L605.69,216.08L605.76,217.08L605.82,218.08L605.89,219.08L605.96,220.07L606.03,221.07L606.10,222.07L606.16,223.07L606.23,224.07L606.30,225.07L606.37,226.06L606.43,227.06L606.50,228.06L606.57,229.06L606.64,230.06L606.70,231.06L606.77,232.05L606.84,233.05L606.91,234.05L606.97,235.05L607.04,236.05L607.11,237.04L607.18,238.04L607.24,239.04L607.31,240.04L607.38,241.04L607.45,242.04L607.51,243.03L607.58,244.03L607.65,245.03L607.71,246.03L607.78,247.03L607.85,248.03L607.92,249.02L607.98,250.02L608.05,251.02L608.12,252.02L608.19,253.02L608.25,254.02L608.32,255.01L608.39,256.01L608.46,257.01L608.52,258.01L608.59,259.01L608.66,260.00L608.73,261.00L608.80,262.00L608.87,263.00L608.94,264.00L609.01,265.00L609.08,265.99L609.15,266.99L609.22,267.99L609.29,268.99L609.36,269.99L609.43,270.98L609.50,271.98L609.57,272.98L609.65,273.98L609.72,274.98L609.79,275.97L609.86,276.97L609.93,277.97L610.00,278.97L610.08,279.97L610.15,280.96L610.22,281.96L610.29,282.96L610.36,283.96L610.43,284.96L610.50,285.95L610.58,286.95L610.65,287.95L610.72,288.95L610.79,289.95L610.86,290.94L610.93,291.94L611.01,292.94L611.08,293.94L611.15,294.94L611.22,295.93L611.29,296.93L611.36,297.93L611.44,298.93L611.51,299.92L611.58,300.92L611.65,301.92L611.72,302.92L611.80,303.92L611.87,304.91L611.94,305.91L612.01,306.91L612.08,307.91L612.15,308.91L612.22,309.90L612.29,310.90L612.35,311.90L612.42,312.90L612.48,313.90L612.54,314.90L612.61,315.90L612.67,316.89L612.73,317.89L612.78,318.89L612.84,319.89L612.90,320.89L612.95,321.89L613.01,322.89L613.07,323.89L613.12,324.89L613.18,325.88L613.23,326.88L613.29,327.88L613.34,328.88L613.40,329.88L613.45,330.88L613.51,331.88L613.56,332.88L613.62,333.88L613.67,334.88L613.73,335.87L613.78,336.87L613.84,337.87L613.90,338.87L613.95,339.87L614.01,340.87L614.06,341.87L614.12,342.87L614.17,343.87L614.23,344.87L614.28,345.86L614.34,346.86L614.40,347.86L614.45,348.86L614.51,349.86L614.56,350.86L614.62,351.86L614.67,352.86L614.73,353.86L614.78,354.86L614.84,355.85L614.89,356.85L614.95,357.85L615.01,358.85L615.06,359.85L615.12,360.85L615.18,361.85L615.24,362.85L615.30,363.85L615.36,364.84L615.43,365.84L615.49,366.84L615.55,367.84L615.62,368.84L615.68,369.84L615.75,370.83L615.81,371.83L615.88,372.83L615.94,373.83L616.01,374.83L616.07,375.83L616.14,376.83L616.20,377.82L616.27,378.82L616.33,379.82L616.39,380.82L616.45,381.82L616.52,382.82L616.58,383.82L616.64,384.81L616.70,385.81L616.76,386.81L616.82,387.81L616.88,388.81L616.94,389.81L617.00,390.81L617.06,391.81L617.12,392.80L617.18,393.80L617.23,394.80L617.29,395.80L617.35,396.80L617.41,397.80L617.46,398.80L617.52,399.80L617.58,400.80L617.63,401.79L617.69,402.79L617.74,403.79L617.80,404.79L617.85,405.79L617.91,406.79L617.96,407.79L618.02,408.79L618.07,409.79L618.12,410.79L618.18,411.78L618.23,412.78L618.29,413.78L618.35,414.78L618.41,415.78L618.47,416.78L618.53,417.78L618.59,418.78L618.66,419.77L618.72,420.77L618.79,421.77L618.86,422.77L618.93,423.77L619.00,424.76L619.08,425.76L619.15,426.76L619.22,427.76L619.30,428.76L619.37,429.75L619.45,430.75L619.52,431.75L619.60,432.75L619.67,433.74L619.75,434.74L619.82,435.74L619.90,436.74L619.98,437.74L620.05,438.73L620.13,439.73L620.21,440.73L620.30,441.72L620.38,442.72L620.47,443.72L620.56,444.71L620.66,445.71L620.75,446.71L620.85,447.70L620.95,448.70L621.06,449.69L621.17,450.69L621.28,451.68L621.39,452.67L621.50,453.67L621.62,454.66L621.74,455.66L621.86,456.65L621.98,457.64L622.10,458.64L622.23,459.63L622.35,460.62L622.48,461.61L622.62,462.61L622.75,463.60L622.89,464.59L623.04,465.58L623.18,466.57L623.34,467.55L623.50,468.54L623.66,469.53L623.84,470.51L624.01,471.50L624.19,472.48L624.38,473.46L624.58,474.44L624.77,475.42L624.97,476.40L625.17,477.38L625.38,478.36L625.59,479.34L625.80,480.32L626.01,481.30L626.22,482.28L626.43,483.25L626.64,484.23L626.85,485.21L627.07,486.19L627.29,487.16L627.51,488.14L627.73,489.12L627.95,490.09L628.18,491.06L628.41,492.04L628.64,493.01L628.88,493.98L629.12,494.95L629.37,495.92L629.61,496.89L629.86,497.86L630.11,498.83L630.36,499.80L630.61,500.77L630.86,501.74L631.11,502.71L631.36,503.67L631.61,504.64L631.86,505.61L632.10,506.58L632.34,507.56L632.58,508.53L632.82,509.50L633.05,510.47L633.28,511.45L633.51,512.42L633.74,513.40L633.98,514.37L634.21,515.35L634.44,516.33L634.68,517.30L634.92,518.28L635.17,519.26L635.42,520.25L635.69,521.23L635.96,522.21L636.24,523.19L636.54,524.16L636.86,525.13L637.20,526.08L637.56,527.03L637.94,527.96L638.36,528.86L638.81,529.74L639.29,530.58L639.82,531.38L640.39,532.14L641.00,532.85L641.65,533.51L642.35,534.10L643.09,534.64L643.88,535.11L644.71,535.52L645.57,535.87L646.47,536.15L647.39,536.38L648.34,536.56L649.31,536.69L650.30,536.77L651.30,536.81L652.31,536.82L653.32,536.80L654.34,536.75L655.35,536.69L656.37,536.60L657.38,536.50L658.39,536.38L659.40,536.25L660.40,536.12L661.40,535.98L662.40,535.83L663.39,535.68L664.38,535.52L665.37,535.37L666.36,535.22L667.35,535.07L668.34,534.93L669.33,534.79L670.32,534.66L671.32,534.54L672.31,534.43L673.30,534.33L674.30,534.25L675.29,534.17L676.29,534.10L677.29,534.05L678.29,534.00L679.28,533.96L680.28,533.93L681.28,533.90L682.28,533.88L683.29,533.87L684.29,533.85L685.29,533.84L686.29,533.83L687.29,533.82L688.29,533.82L689.29,533.81L690.29,533.80L691.29,533.80L692.29,533.79L693.29,533.78L694.29,533.78L695.29,533.77L696.29,533.76L697.30,533.76L698.30,533.75L699.30,533.74L700.30,533.74L701.30,533.73L702.30,533.73L703.30,533.72L704.30,533.71L705.30,533.71L706.30,533.70" stroke="#e80e0e" stroke-width="3.90" fill="none" stroke-linejoin="round" stroke-linecap="round"/>
<path clip-path="url(#c)" d="M33.00,533.70L34.01,533.70L35.01,533.69L36.02,533.69L37.03,533.69L38.03,533.68L39.04,533.68L40.05,533.68L41.05,533.67L42.06,533.67L43.07,533.67L44.07,533.67L45.08,533.67L46.09,533.67L47.09,533.67L48.10,533.67L49.11,533.68L50.12,533.68L51.12,533.68L52.13,533.69L53.14,533.69L54.15,533.70L55.16,533.70L56.17,533.69L57.18,533.68L58.18,533.67L59.19,533.65L60.20,533.62L61.20,533.57L62.20,533.50L63.20,533.42L64.19,533.31L65.18,533.19L66.17,533.03L67.15,532.85L68.12,532.65L69.09,532.42L70.06,532.16L71.02,531.89L71.97,531.59L72.93,531.28L73.88,530.96L74.82,530.63L75.77,530.30L76.72,529.97L77.68,529.66L78.63,529.35L79.59,529.06L80.55,528.79L81.52,528.54L82.49,528.31L83.47,528.10L84.45,527.92L85.44,527.77L86.43,527.63L87.43,527.52L88.43,527.43L89.43,527.36L90.43,527.30L91.44,527.26L92.45,527.22L93.45,527.20L94.46,527.19L95.47,527.19L96.48,527.19L97.49,527.20L98.50,527.22L99.50,527.24L100.51,527.26L101.52,527.29L102.52,527.33L103.53,527.36L104.54,527.41L105.54,527.45L106.55,527.51L107.55,527.56L108.56,527.62L109.56,527.69L110.57,527.76L111.57,527.84L112.57,527.93L113.57,528.02L114.58,528.11L115.58,528.22L116.58,528.33L117.58,528.44L118.58,528.56L119.57,528.69L120.57,528.83L121.57,528.97L122.56,529.12L123.56,529.28L124.55,529.44L125.54,529.61L126.53,529.79L127.52,529.97L128.51,530.15L129.50,530.34L130.49,530.53L131.48,530.73L132.47,530.92L133.45,531.12L134.44,531.31L135.43,531.51L136.42,531.70L137.41,531.88L138.40,532.06L139.39,532.23L140.38,532.40L141.37,532.55L142.37,532.70L143.36,532.83L144.36,532.95L145.36,533.06L146.36,533.16L147.36,533.25L148.36,533.32L149.37,533.39L150.37,533.45L151.38,533.50L152.38,533.54L153.39,533.58L154.39,533.60L155.40,533.63L156.41,533.64L157.41,533.66L158.42,533.67L159.43,533.67L160.43,533.68L161.44,533.68L162.45,533.68L163.46,533.68L164.46,533.68L165.47,533.68L166.48,533.68L167.48,533.68L168.49,533.68L169.50,533.69L280.00,533.67L281.01,533.68L282.01,533.68L283.02,533.69L284.03,533.70L285.04,533.71L286.05,533.73L287.06,533.75L288.07,533.76L289.09,533.77L290.10,533.78L291.11,533.79L292.12,533.78L293.12,533.76L294.13,533.73L295.14,533.69L296.14,533.63L297.14,533.55L298.13,533.44L299.12,533.32L300.11,533.17L301.09,533.00L302.07,532.80L303.04,532.58L304.01,532.34L304.97,532.08L305.93,531.79L306.89,531.49L307.84,531.18L308.79,530.86L309.75,530.53L310.70,530.21L311.65,529.89L312.61,529.58L313.57,529.28L314.53,529.00L315.50,528.74L316.47,528.50L317.45,528.28L318.43,528.08L319.42,527.90L320.41,527.74L321.40,527.60L322.40,527.49L323.40,527.38L324.40,527.30L325.41,527.22L326.41,527.16L327.42,527.11L328.43,527.07L329.43,527.04L330.44,527.01L331.45,526.99L332.46,526.98L333.47,526.97L334.48,526.97L335.48,526.97L336.49,526.97L337.50,526.98L338.51,526.99L339.51,527.01L340.52,527.04L341.53,527.07L342.54,527.10L343.54,527.14L344.55,527.18L345.55,527.24L346.56,527.29L347.57,527.36L348.57,527.43L349.57,527.50L350.58,527.58L351.58,527.67L352.58,527.77L353.59,527.87L354.59,527.98L355.59,528.10L356.59,528.22L357.59,528.35L358.58,528.49L359.58,528.63L360.57,528.78L361.57,528.94L362.56,529.11L363.56,529.28L364.55,529.46L365.54,529.64L366.53,529.83L367.52,530.02L368.51,530.21L369.49,530.41L370.48,530.61L371.47,530.81L372.46,531.00L373.45,531.20L374.43,531.40L375.42,531.59L376.41,531.77L377.41,531.95L378.40,532.12L379.39,532.28L380.39,532.44L381.38,532.58L382.38,532.72L383.38,532.84L384.37,532.96L385.38,533.06L386.38,533.16L387.38,533.24L388.38,533.32L389.39,533.38L390.39,533.44L391.40,533.48L392.40,533.52L393.41,533.56L394.42,533.59L395.43,533.61L396.43,533.62L397.44,533.64L398.45,533.64L399.46,533.65L400.47,533.66L401.47,533.66L402.48,533.66L403.49,533.67L404.50,533.67L523.00,533.67L524.00,533.68L525.01,533.68L526.02,533.69L527.02,533.70L528.03,533.71L529.04,533.73L530.05,533.75L531.06,533.76L532.07,533.77L533.08,533.78L534.09,533.79L535.10,533.78L536.10,533.76L537.11,533.73L538.11,533.69L539.11,533.63L540.11,533.55L541.10,533.45L542.09,533.32L543.07,533.17L544.05,533.00L545.03,532.81L546.00,532.59L546.97,532.34L547.93,532.08L548.89,531.80L549.84,531.50L550.79,531.18L551.74,530.86L552.69,530.53L553.64,530.21L554.60,529.89L555.55,529.58L556.51,529.28L557.47,529.00L558.44,528.73L559.41,528.49L560.38,528.26L561.36,528.06L562.34,527.88L563.33,527.72L564.32,527.58L565.32,527.46L566.32,527.36L567.32,527.27L568.32,527.20L569.32,527.14L570.33,527.09L571.33,527.05L572.34,527.01L573.35,526.99L574.35,526.97L575.36,526.95L576.37,526.94L577.37,526.94L578.38,526.94L579.39,526.94L580.39,526.94L581.40,526.95L582.41,526.96L583.41,526.97L584.42,526.99L585.42,527.01L586.43,527.03L587.43,527.06L588.44,527.09L589.45,527.13L590.45,527.17L591.45,527.22L592.46,527.27L593.46,527.32L594.47,527.39L595.47,527.45L596.47,527.53L597.47,527.61L598.48,527.70L599.48,527.80L600.48,527.90L601.47,528.02L602.47,528.14L603.47,528.26L604.47,528.40L605.46,528.54L606.46,528.69L607.45,528.85L608.44,529.01L609.43,529.18L610.42,529.36L611.41,529.54L612.40,529.72L613.39,529.91L614.37,530.11L615.36,530.30L616.35,530.50L617.33,530.70L618.32,530.90L619.31,531.10L620.29,531.30L621.28,531.49L622.27,531.68L623.26,531.86L624.25,532.03L625.24,532.20L626.23,532.36L627.22,532.51L628.22,532.65L629.21,532.78L630.21,532.90L631.21,533.01L632.21,533.11L633.21,533.20L634.21,533.28L635.21,533.35L636.21,533.41L637.22,533.46L638.22,533.51L639.23,533.54L640.23,533.57L641.24,533.60L642.24,533.62L643.25,533.63L644.26,533.64L645.26,533.65L646.27,533.65L647.28,533.66L648.28,533.66L649.29,533.66L650.30,533.67L651.30,533.67L690.00,533.70" stroke="#808080" stroke-width="3.90" fill="none" stroke-linejoin="round" stroke-linecap="round"/>
<path clip-path="url(#c)" d="M32.97,533.53L33.98,533.60L35.00,533.66L36.01,533.71L37.03,533.75L38.04,533.77L39.06,533.78L40.08,533.78L41.09,533.75L42.10,533.70L43.11,533.62L44.12,533.52L45.12,533.39L46.11,533.23L47.10,533.04L48.08,532.82L49.04,532.56L49.99,532.27L50.92,531.93L51.84,531.56L52.73,531.15L53.60,530.70L54.44,530.21L55.25,529.68L56.03,529.10L56.78,528.49L57.49,527.83L58.17,527.13L58.80,526.39L59.39,525.62L59.94,524.81L60.44,523.97L60.91,523.11L61.34,522.21L61.74,521.30L62.10,520.37L62.43,519.43L62.74,518.47L63.01,517.50L63.27,516.53L63.51,515.55L63.73,514.56L63.94,513.58L64.14,512.59L64.33,511.60L64.52,510.60L64.70,509.61L64.87,508.62L65.04,507.63L65.21,506.64L65.38,505.65L65.55,504.66L65.72,503.68L65.89,502.69L66.05,501.70L66.22,500.71L66.39,499.72L66.55,498.73L66.72,497.75L66.88,496.76L67.04,495.77L67.20,494.78L67.35,493.79L67.51,492.80L67.66,491.81L67.81,490.82L67.96,489.83L68.10,488.84L68.24,487.85L68.38,486.86L68.53,485.87L68.67,484.88L68.81,483.88L68.95,482.89L69.09,481.90L69.23,480.91L69.38,479.92L69.52,478.93L69.67,477.94L69.82,476.95L69.96,475.96L70.11,474.97L70.25,473.98L70.40,472.98L70.54,471.99L70.68,471.00L70.81,470.01L70.94,469.02L71.07,468.02L71.20,467.03L71.32,466.04L71.44,465.04L71.56,464.05L71.68,463.06L71.80,462.06L71.92,461.07L72.04,460.07L72.16,459.08L72.28,458.09L72.41,457.09L72.54,456.10L72.68,455.11L72.82,454.12L72.97,453.13L73.11,452.14L73.27,451.15L73.42,450.16L73.58,449.17L73.74,448.18L73.90,447.19L74.07,446.20L74.23,445.22L74.39,444.23L74.56,443.24L74.72,442.25L74.88,441.26L75.04,440.28L75.20,439.29L75.36,438.30L75.52,437.31L75.68,436.32L75.84,435.33L76.00,434.34L76.15,433.35L76.31,432.36L76.47,431.38L76.63,430.39L76.79,429.40L76.96,428.41L77.12,427.42L77.29,426.44L77.46,425.45L77.63,424.46L77.80,423.48L77.98,422.49L78.16,421.50L78.34,420.52L78.52,419.53L78.71,418.55L78.90,417.57L79.09,416.58L79.29,415.60L79.48,414.62L79.69,413.64L79.89,412.66L80.10,411.68L80.31,410.70L80.53,409.72L80.75,408.75L80.98,407.77L81.22,406.80L81.46,405.83L81.71,404.86L81.97,403.89L82.23,402.92L82.50,401.96L82.78,400.99L83.07,400.03L83.37,399.07L83.68,398.12L83.99,397.16L84.31,396.20L84.64,395.25L84.97,394.29L85.32,393.34L85.67,392.39L86.04,391.43L86.42,390.48L86.81,389.54L87.22,388.59L87.65,387.65L88.10,386.72L88.57,385.81L89.08,384.90L89.62,384.02L90.19,383.15L90.80,382.32L91.44,381.51L92.13,380.75L92.84,380.03L93.60,379.36L94.38,378.76L95.20,378.23L96.04,377.79L96.90,377.45L97.78,377.22L98.66,377.10L99.54,377.11L100.42,377.24L101.29,377.49L102.14,377.85L102.98,378.31L103.78,378.85L104.57,379.47L105.32,380.14L106.04,380.87L106.73,381.64L107.39,382.45L108.02,383.28L108.63,384.14L109.20,385.01L109.75,385.90L110.28,386.79L110.80,387.70L111.29,388.61L111.76,389.52L112.23,390.43L112.68,391.35L113.12,392.26L113.56,393.18L113.98,394.10L114.40,395.02L114.82,395.94L115.23,396.85L115.63,397.78L116.03,398.70L116.42,399.62L116.80,400.55L117.17,401.48L117.54,402.41L117.90,403.34L118.24,404.28L118.58,405.22L118.91,406.17L119.23,407.11L119.53,408.06L119.83,409.02L120.12,409.98L120.40,410.94L120.67,411.90L120.93,412.87L121.19,413.83L121.45,414.80L121.69,415.77L121.94,416.75L122.18,417.72L122.41,418.69L122.65,419.67L122.88,420.64L123.10,421.62L123.33,422.59L123.55,423.57L123.77,424.55L123.99,425.53L124.20,426.50L124.41,427.48L124.63,428.46L124.83,429.44L125.04,430.42L125.25,431.40L125.45,432.38L125.66,433.36L125.86,434.34L126.07,435.32L126.27,436.30L126.48,437.28L126.69,438.26L126.89,439.24L127.10,440.22L127.31,441.20L127.53,442.18L127.74,443.16L127.96,444.13L128.18,445.11L128.40,446.09L128.62,447.06L128.85,448.04L129.07,449.02L129.30,449.99L129.52,450.97L129.75,451.94L129.97,452.92L130.20,453.89L130.42,454.87L130.64,455.85L130.86,456.82L131.08,457.80L131.29,458.78L131.51,459.76L131.72,460.74L131.93,461.72L132.14,462.69L132.35,463.67L132.56,464.65L132.78,465.63L132.99,466.61L133.20,467.59L133.41,468.57L133.63,469.55L133.84,470.52L134.06,471.50L134.28,472.48L134.50,473.46L134.72,474.43L134.94,475.41L135.16,476.39L135.38,477.36L135.61,478.34L135.83,479.31L136.06,480.29L136.28,481.27L136.51,482.24L136.73,483.22L136.96,484.19L137.19,485.17L137.42,486.14L137.65,487.12L137.88,488.09L138.12,489.07L138.35,490.04L138.59,491.01L138.84,491.98L139.08,492.95L139.33,493.92L139.59,494.89L139.84,495.86L140.10,496.83L140.37,497.80L140.64,498.76L140.92,499.72L141.20,500.69L141.48,501.65L141.77,502.61L142.07,503.56L142.38,504.52L142.70,505.47L143.02,506.41L143.36,507.36L143.70,508.30L144.06,509.23L144.44,510.16L144.82,511.08L145.22,512.00L145.64,512.91L146.07,513.82L146.52,514.72L146.99,515.61L147.47,516.49L147.97,517.36L148.49,518.22L149.03,519.07L149.58,519.90L150.16,520.72L150.77,521.52L151.39,522.30L152.04,523.06L152.71,523.79L153.41,524.50L154.13,525.17L154.87,525.82L155.64,526.43L156.44,527.01L157.26,527.56L158.10,528.06L158.97,528.53L159.85,528.96L160.76,529.36L161.68,529.72L162.61,530.04L163.56,530.34L164.52,530.60L165.49,530.83L166.47,531.04L167.46,531.22L168.45,531.38L169.44,531.52L170.44,531.65L171.44,531.76L172.44,531.87L173.44,531.96L174.44,532.05L175.45,532.13L176.45,532.20L177.45,532.28L178.45,532.35L179.45,532.42L180.45,532.48L181.46,532.54L182.46,532.61L183.46,532.67L184.46,532.73L185.46,532.78L186.46,532.84L187.46,532.89L188.46,532.94L189.46,532.99L190.46,533.03L191.46,533.08L192.46,533.12L193.46,533.16L194.46,533.20L195.46,533.23L196.46,533.26L197.46,533.29L198.46,533.32L199.47,533.35L200.47,533.37L201.47,533.40L202.47,533.42L203.47,533.44L204.47,533.46L205.47,533.47L206.47,533.49L207.48,533.50L208.48,533.51L209.48,533.53L210.48,533.54L211.48,533.55L212.48,533.56L213.48,533.57L214.49,533.58L215.49,533.59L216.49,533.60L217.49,533.61L218.49,533.62L219.49,533.63L220.49,533.65L221.50,533.66L222.50,533.67L223.50,533.68L224.50,533.69L225.00,533.70L226.00,533.70L227.00,533.69L228.00,533.69L229.01,533.69L230.01,533.69L231.01,533.68L232.01,533.68L233.01,533.68L234.01,533.68L235.02,533.67L236.02,533.67L237.02,533.67L238.02,533.66L239.02,533.66L240.02,533.66L241.03,533.66L242.03,533.66L243.03,533.65L244.03,533.65L245.03,533.65L246.03,533.65L247.04,533.65L248.04,533.65L249.04,533.65L250.04,533.65L251.04,533.65L252.05,533.65L253.05,533.65L254.05,533.65L255.05,533.65L256.05,533.64L257.06,533.64L258.06,533.63L259.06,533.63L260.06,533.61L261.06,533.60L262.07,533.58L263.07,533.55L264.07,533.52L265.07,533.49L266.08,533.44L267.08,533.39L268.08,533.32L269.08,533.25L270.08,533.17L271.08,533.07L272.08,532.96L273.08,532.83L274.07,532.69L275.07,532.53L276.05,532.34L277.04,532.14L278.02,531.92L278.99,531.67L279.96,531.40L280.91,531.09L281.86,530.76L282.78,530.40L283.70,530.01L284.59,529.58L285.47,529.11L286.32,528.61L287.15,528.08L287.95,527.50L288.72,526.89L289.46,526.25L290.17,525.57L290.84,524.85L291.48,524.10L292.09,523.33L292.66,522.52L293.20,521.69L293.70,520.83L294.18,519.96L294.62,519.06L295.03,518.15L295.41,517.23L295.76,516.29L296.09,515.34L296.39,514.38L296.67,513.42L296.93,512.45L297.16,511.47L297.38,510.49L297.59,509.51L297.78,508.52L297.96,507.53L298.12,506.54L298.28,505.55L298.43,504.56L298.58,503.56L298.72,502.57L298.86,501.58L298.99,500.58L299.13,499.59L299.27,498.60L299.40,497.60L299.54,496.61L299.68,495.62L299.82,494.63L299.96,493.63L300.11,492.64L300.25,491.65L300.40,490.66L300.54,489.67L300.69,488.68L300.84,487.69L300.99,486.70L301.14,485.71L301.29,484.72L301.45,483.73L301.60,482.74L301.76,481.75L301.92,480.76L302.07,479.77L302.23,478.78L302.39,477.79L302.56,476.80L302.72,475.82L302.88,474.83L303.04,473.84L303.20,472.85L303.36,471.86L303.52,470.87L303.68,469.88L303.83,468.89L303.98,467.90L304.14,466.91L304.29,465.92L304.44,464.93L304.59,463.94L304.73,462.95L304.88,461.96L305.03,460.97L305.18,459.98L305.32,458.99L305.47,458.00L305.62,457.01L305.77,456.02L305.92,455.03L306.07,454.04L306.22,453.05L306.38,452.06L306.53,451.07L306.69,450.08L306.84,449.09L307.00,448.10L307.15,447.11L307.31,446.12L307.46,445.13L307.62,444.14L307.77,443.15L307.92,442.16L308.08,441.17L308.23,440.18L308.39,439.19L308.54,438.20L308.70,437.21L308.85,436.22L309.01,435.23L309.17,434.24L309.33,433.26L309.49,432.27L309.65,431.28L309.81,430.29L309.98,429.30L310.14,428.32L310.31,427.33L310.48,426.34L310.66,425.35L310.83,424.37L311.00,423.38L311.18,422.40L311.36,421.41L311.54,420.42L311.72,419.44L311.90,418.45L312.08,417.47L312.26,416.48L312.44,415.50L312.62,414.51L312.80,413.53L312.99,412.54L313.17,411.56L313.35,410.57L313.54,409.59L313.72,408.60L313.91,407.62L314.10,406.64L314.30,405.65L314.50,404.67L314.71,403.69L314.92,402.72L315.14,401.74L315.37,400.77L315.61,399.80L315.86,398.83L316.11,397.86L316.37,396.89L316.65,395.93L316.93,394.97L317.21,394.01L317.51,393.05L317.81,392.10L318.12,391.14L318.43,390.19L318.75,389.24L319.08,388.29L319.41,387.34L319.75,386.40L320.09,385.45L320.44,384.51L320.80,383.57L321.17,382.63L321.54,381.69L321.93,380.76L322.33,379.83L322.75,378.91L323.18,377.99L323.62,377.08L324.09,376.18L324.58,375.29L325.09,374.41L325.63,373.55L326.20,372.71L326.80,371.90L327.42,371.11L328.08,370.35L328.78,369.63L329.51,368.94L330.27,368.30L331.06,367.71L331.89,367.17L332.75,366.69L333.63,366.27L334.54,365.93L335.46,365.67L336.40,365.49L337.35,365.40L338.31,365.41L339.26,365.50L340.21,365.68L341.14,365.95L342.06,366.29L342.96,366.69L343.83,367.16L344.67,367.69L345.48,368.26L346.25,368.88L346.99,369.55L347.70,370.25L348.36,371.00L349.00,371.77L349.60,372.57L350.17,373.40L350.71,374.25L351.23,375.12L351.72,376.00L352.20,376.89L352.65,377.80L353.09,378.71L353.52,379.63L353.94,380.55L354.34,381.48L354.74,382.41L355.14,383.33L355.52,384.26L355.91,385.20L356.29,386.13L356.66,387.06L357.03,387.99L357.40,388.92L357.77,389.86L358.14,390.79L358.50,391.73L358.86,392.66L359.21,393.60L359.56,394.54L359.91,395.48L360.25,396.42L360.58,397.36L360.91,398.31L361.23,399.26L361.54,400.21L361.85,401.16L362.15,402.12L362.45,403.07L362.73,404.03L363.01,404.99L363.29,405.95L363.56,406.92L363.83,407.88L364.09,408.85L364.35,409.82L364.60,410.79L364.85,411.76L365.10,412.73L365.34,413.70L365.59,414.67L365.83,415.64L366.07,416.62L366.30,417.59L366.54,418.56L366.77,419.54L367.00,420.51L367.23,421.49L367.46,422.46L367.68,423.44L367.91,424.42L368.13,425.39L368.35,426.37L368.56,427.35L368.78,428.33L368.99,429.30L369.20,430.28L369.41,431.26L369.62,432.24L369.82,433.22L370.03,434.20L370.23,435.19L370.43,436.17L370.63,437.15L370.83,438.13L371.03,439.11L371.23,440.09L371.43,441.07L371.63,442.06L371.83,443.04L372.03,444.02L372.23,445.00L372.43,445.98L372.63,446.96L372.83,447.94L373.03,448.93L373.23,449.91L373.43,450.89L373.63,451.87L373.83,452.85L374.02,453.83L374.22,454.82L374.41,455.80L374.60,456.78L374.79,457.77L374.97,458.75L375.16,459.74L375.34,460.72L375.53,461.70L375.72,462.69L375.91,463.67L376.10,464.65L376.30,465.64L376.50,466.62L376.70,467.60L376.91,468.58L377.13,469.55L377.35,470.53L377.58,471.50L377.81,472.48L378.05,473.45L378.29,474.42L378.54,475.39L378.79,476.36L379.05,477.33L379.31,478.29L379.57,479.26L379.83,480.23L380.09,481.20L380.35,482.16L380.61,483.13L380.87,484.10L381.13,485.06L381.40,486.03L381.66,487.00L381.92,487.96L382.19,488.93L382.45,489.90L382.72,490.86L382.98,491.83L383.25,492.79L383.52,493.76L383.79,494.72L384.06,495.69L384.33,496.65L384.60,497.62L384.87,498.58L385.14,499.55L385.42,500.51L385.69,501.48L385.96,502.44L386.23,503.41L386.50,504.38L386.77,505.35L387.04,506.31L387.32,507.28L387.60,508.25L387.88,509.22L388.17,510.18L388.47,511.14L388.78,512.10L389.11,513.05L389.45,514.00L389.81,514.93L390.20,515.86L390.61,516.76L391.04,517.66L391.51,518.53L392.01,519.38L392.54,520.21L393.11,521.01L393.71,521.79L394.34,522.53L395.02,523.24L395.72,523.92L396.46,524.56L397.23,525.17L398.03,525.74L398.85,526.28L399.70,526.79L400.57,527.26L401.46,527.69L402.37,528.10L403.30,528.48L404.24,528.83L405.18,529.16L406.14,529.46L407.11,529.73L408.08,529.99L409.06,530.23L410.04,530.45L411.02,530.65L412.01,530.83L413.00,531.00L413.99,531.16L414.98,531.31L415.98,531.44L416.97,531.57L417.97,531.69L418.97,531.80L419.96,531.90L420.96,532.00L421.96,532.10L422.96,532.19L423.96,532.27L424.96,532.36L425.95,532.44L426.95,532.51L427.95,532.58L428.95,532.65L429.95,532.72L430.95,532.78L431.95,532.83L432.95,532.89L433.95,532.94L434.95,532.98L435.95,533.02L436.95,533.07L437.95,533.10L438.96,533.14L439.96,533.18L440.96,533.21L441.96,533.24L442.96,533.27L443.96,533.31L444.96,533.33L445.96,533.36L446.96,533.39L447.97,533.42L448.97,533.44L449.97,533.46L450.97,533.49L451.97,533.51L452.97,533.52L453.97,533.54L454.98,533.56L455.98,533.57L456.98,533.58L457.98,533.59L458.98,533.60L459.98,533.61L460.99,533.62L461.99,533.63L462.99,533.64L463.99,533.65L464.99,533.65L465.99,533.66L467.00,533.67L468.00,533.68L469.00,533.69L470.00,533.70L504.98,533.51L505.99,533.51L507.00,533.50L508.01,533.49L509.02,533.46L510.02,533.42L511.03,533.37L512.04,533.31L513.04,533.23L514.05,533.13L515.05,533.02L516.05,532.90L517.05,532.75L518.05,532.59L519.04,532.40L520.02,532.20L521.00,531.97L521.97,531.71L522.93,531.43L523.88,531.12L524.82,530.78L525.75,530.42L526.66,530.02L527.55,529.58L528.42,529.12L529.27,528.62L530.10,528.08L530.90,527.51L531.67,526.90L532.41,526.25L533.12,525.57L533.79,524.86L534.44,524.11L535.04,523.33L535.62,522.53L536.16,521.70L536.66,520.84L537.14,519.97L537.58,519.07L537.99,518.16L538.37,517.23L538.72,516.30L539.05,515.35L539.36,514.39L539.64,513.43L539.89,512.45L540.13,511.48L540.36,510.50L540.56,509.51L540.75,508.53L540.93,507.54L541.10,506.55L541.25,505.56L541.41,504.56L541.55,503.57L541.69,502.58L541.83,501.58L541.97,500.59L542.10,499.59L542.24,498.60L542.37,497.61L542.51,496.61L542.65,495.62L542.79,494.63L542.93,493.63L543.07,492.64L543.22,491.65L543.36,490.66L543.51,489.67L543.66,488.68L543.80,487.68L543.95,486.69L544.10,485.70L544.25,484.71L544.41,483.72L544.56,482.73L544.72,481.74L544.87,480.75L545.03,479.76L545.19,478.77L545.35,477.78L545.51,476.80L545.67,475.81L545.83,474.82L545.99,473.83L546.15,472.84L546.31,471.85L546.47,470.86L546.62,469.87L546.78,468.88L546.93,467.89L547.08,466.90L547.24,465.91L547.38,464.92L547.53,463.93L547.68,462.94L547.83,461.95L547.97,460.95L548.12,459.96L548.27,458.97L548.41,457.98L548.56,456.99L548.71,456.00L548.86,455.01L549.01,454.02L549.16,453.03L549.31,452.04L549.47,451.05L549.62,450.06L549.77,449.07L549.93,448.08L550.08,447.09L550.24,446.10L550.39,445.11L550.54,444.12L550.70,443.13L550.85,442.14L551.01,441.15L551.16,440.16L551.31,439.17L551.47,438.18L551.62,437.18L551.77,436.19L551.93,435.21L552.09,434.22L552.24,433.23L552.40,432.24L552.56,431.25L552.72,430.26L552.89,429.27L553.05,428.28L553.22,427.29L553.39,426.31L553.56,425.32L553.73,424.33L553.91,423.35L554.08,422.36L554.26,421.37L554.43,420.39L554.61,419.40L554.79,418.41L554.97,417.43L555.15,416.44L555.33,415.46L555.51,414.47L555.69,413.48L555.87,412.50L556.05,411.51L556.24,410.53L556.42,409.54L556.60,408.56L556.79,407.57L556.98,406.59L557.17,405.61L557.37,404.62L557.57,403.64L557.78,402.66L557.99,401.69L558.22,400.71L558.45,399.74L558.68,398.76L558.93,397.79L559.19,396.83L559.45,395.86L559.73,394.90L560.01,393.94L560.30,392.98L560.59,392.02L560.90,391.06L561.21,390.11L561.52,389.16L561.84,388.21L562.17,387.26L562.50,386.31L562.83,385.36L563.18,384.42L563.53,383.47L563.89,382.53L564.25,381.59L564.63,380.66L565.02,379.72L565.42,378.79L565.84,377.87L566.27,376.95L566.72,376.04L567.19,375.14L567.68,374.25L568.20,373.38L568.74,372.52L569.31,371.68L569.91,370.87L570.54,370.08L571.21,369.33L571.91,368.61L572.64,367.93L573.41,367.30L574.21,366.71L575.04,366.18L575.90,365.71L576.79,365.31L577.70,364.97L578.63,364.73L579.57,364.56L580.52,364.49L581.47,364.51L582.42,364.62L583.37,364.82L584.30,365.10L585.21,365.45L586.11,365.87L586.97,366.35L587.81,366.88L588.61,367.47L589.38,368.10L590.11,368.78L590.81,369.49L591.47,370.24L592.10,371.02L592.69,371.83L593.25,372.66L593.79,373.51L594.30,374.38L594.79,375.27L595.26,376.17L595.71,377.08L596.15,377.99L596.57,378.91L596.98,379.84L597.39,380.76L597.79,381.69L598.18,382.62L598.56,383.55L598.94,384.49L599.32,385.42L599.69,386.35L600.07,387.28L600.43,388.22L600.80,389.15L601.16,390.09L601.52,391.02L601.88,391.96L602.23,392.90L602.58,393.84L602.92,394.78L603.26,395.72L603.59,396.67L603.92,397.61L604.24,398.56L604.55,399.51L604.86,400.47L605.16,401.42L605.45,402.38L605.74,403.34L606.02,404.30L606.29,405.26L606.56,406.23L606.82,407.20L607.08,408.16L607.34,409.13L607.59,410.10L607.84,411.07L608.09,412.04L608.33,413.01L608.58,413.99L608.82,414.96L609.05,415.93L609.29,416.91L609.52,417.88L609.75,418.86L609.98,419.83L610.21,420.81L610.44,421.78L610.66,422.76L610.89,423.74L611.11,424.72L611.32,425.69L611.54,426.67L611.75,427.65L611.97,428.63L612.18,429.61L612.39,430.59L612.59,431.57L612.80,432.55L613.00,433.53L613.20,434.51L613.40,435.50L613.60,436.48L613.80,437.46L614.00,438.44L614.19,439.42L614.39,440.41L614.59,441.39L614.79,442.37L614.98,443.35L615.18,444.34L615.38,445.32L615.58,446.30L615.78,447.28L615.98,448.26L616.19,449.24L616.39,450.23L616.59,451.21L616.79,452.19L616.99,453.17L617.20,454.15L617.40,455.13L617.60,456.12L617.80,457.10L618.00,458.08L618.20,459.06L618.41,460.04L618.61,461.02L618.82,462.00L619.03,462.98L619.25,463.96L619.47,464.94L619.70,465.91L619.94,466.88L620.18,467.85L620.43,468.82L620.70,469.79L620.97,470.75L621.25,471.71L621.54,472.67L621.83,473.62L622.13,474.58L622.44,475.53L622.76,476.48L623.08,477.43L623.40,478.38L623.72,479.33L624.05,480.28L624.37,481.22L624.70,482.17L625.02,483.12L625.35,484.07L625.68,485.01L626.00,485.96L626.33,486.91L626.65,487.86L626.98,488.80L627.31,489.75L627.64,490.70L627.97,491.64L628.30,492.59L628.63,493.54L628.96,494.48L629.30,495.43L629.63,496.37L629.97,497.31L630.31,498.26L630.64,499.20L630.98,500.15L631.31,501.09L631.64,502.04L631.98,502.99L632.30,503.93L632.63,504.88L632.95,505.84L633.27,506.79L633.59,507.74L633.92,508.70L634.24,509.65L634.56,510.61L634.89,511.56L635.23,512.51L635.58,513.45L635.94,514.39L636.32,515.32L636.72,516.23L637.15,517.13L637.60,518.02L638.08,518.88L638.59,519.73L639.14,520.54L639.72,521.33L640.33,522.09L640.98,522.82L641.66,523.52L642.38,524.18L643.13,524.81L643.91,525.41L644.72,525.97L645.56,526.49L646.42,526.98L647.30,527.44L648.20,527.86L649.12,528.26L650.05,528.63L650.99,528.97L651.94,529.28L652.90,529.57L653.87,529.84L654.85,530.09L655.83,530.32L656.81,530.53L657.80,530.72L658.78,530.90L659.77,531.07L660.77,531.22L661.76,531.36L662.76,531.49L663.75,531.62L664.75,531.73L665.75,531.84L666.74,531.94L667.74,532.04L668.74,532.13L669.74,532.22L670.74,532.31L671.74,532.39L672.74,532.47L673.74,532.54L674.74,532.61L675.74,532.68L676.74,532.74L677.74,532.80L678.74,532.85L679.74,532.91L680.74,532.95L681.74,533.00L682.74,533.04L683.74,533.08L684.74,533.12L685.74,533.16L686.75,533.19L687.75,533.22L688.75,533.26L689.75,533.29L690.75,533.32L691.75,533.35L692.76,533.37L693.76,533.40L694.76,533.43L695.76,533.45L696.76,533.47L697.76,533.49L698.77,533.51L699.77,533.53L700.77,533.55L701.77,533.56L702.77,533.58L703.78,533.59L704.78,533.60L705.78,533.61L706.78,533.62L707.78,533.63L708.79,533.63L709.79,533.64L710.79,533.65L711.79,533.66L712.79,533.67L713.80,533.67L714.80,533.68L715.80,533.69" stroke="#1070aa" stroke-width="3.90" fill="none" stroke-linejoin="round" stroke-linecap="round"/>
<path clip-path="url(#c)" d="M33.00,533.70L34.00,533.69L35.01,533.69L36.01,533.69L37.02,533.69L38.02,533.69L39.03,533.69L40.04,533.70L41.04,533.70L42.05,533.71L43.06,533.72L44.06,533.73L45.07,533.75L46.08,533.76L47.10,533.77L48.11,533.78L49.12,533.78L50.13,533.78L51.14,533.77L52.16,533.74L53.17,533.71L54.17,533.66L55.18,533.59L56.18,533.49L57.17,533.37L58.15,533.23L59.13,533.05L60.10,532.84L61.05,532.59L61.98,532.29L62.90,531.96L63.80,531.58L64.68,531.15L65.53,530.68L66.36,530.16L67.17,529.61L67.95,529.01L68.71,528.38L69.45,527.71L70.16,527.01L70.85,526.29L71.53,525.54L72.18,524.77L72.82,523.98L73.45,523.19L74.07,522.38L74.68,521.58L75.29,520.77L75.91,519.97L76.53,519.18L77.16,518.41L77.81,517.65L78.48,516.92L79.16,516.21L79.87,515.52L80.60,514.87L81.36,514.25L82.14,513.65L82.95,513.09L83.78,512.55L84.62,512.04L85.49,511.55L86.38,511.08L87.28,510.64L88.19,510.21L89.11,509.80L90.04,509.41L90.98,509.03L91.92,508.67L92.87,508.32L93.82,507.99L94.78,507.67L95.75,507.38L96.71,507.11L97.69,506.86L98.67,506.64L99.65,506.44L100.64,506.26L101.63,506.12L102.62,506.01L103.62,505.92L104.62,505.87L105.63,505.84L106.63,505.85L107.64,505.89L108.64,505.96L109.64,506.06L110.63,506.19L111.62,506.36L112.60,506.56L113.57,506.79L114.53,507.06L115.47,507.37L116.40,507.71L117.32,508.09L118.22,508.50L119.10,508.95L119.97,509.43L120.82,509.94L121.65,510.48L122.47,511.05L123.27,511.65L124.06,512.26L124.84,512.90L125.61,513.54L126.37,514.20L127.13,514.87L127.88,515.54L128.63,516.22L129.38,516.89L130.14,517.56L130.90,518.22L131.66,518.88L132.43,519.54L133.20,520.18L133.98,520.82L134.77,521.45L135.56,522.06L136.36,522.67L137.17,523.27L137.99,523.86L138.82,524.43L139.65,524.99L140.50,525.54L141.35,526.08L142.21,526.59L143.08,527.09L143.96,527.58L144.85,528.04L145.74,528.47L146.65,528.89L147.57,529.28L148.50,529.64L149.44,529.97L150.38,530.28L151.34,530.56L152.30,530.81L153.28,531.03L154.25,531.23L155.24,531.41L156.23,531.56L157.22,531.70L158.22,531.81L159.22,531.91L160.22,532.00L161.22,532.08L162.23,532.14L163.23,532.20L164.24,532.25L165.24,532.30L166.25,532.35L167.26,532.39L168.26,532.44L169.27,532.48L170.27,532.52L171.28,532.56L172.28,532.60L173.29,532.63L174.29,532.67L175.30,532.71L176.30,532.75L177.30,532.78L178.31,532.82L179.31,532.85L180.32,532.89L181.32,532.92L182.33,532.95L183.33,532.98L184.34,533.01L185.34,533.04L186.34,533.06L187.35,533.09L188.35,533.12L189.36,533.14L190.36,533.17L191.37,533.19L192.37,533.22L193.38,533.24L194.38,533.26L195.38,533.29L196.39,533.31L197.39,533.33L198.40,533.35L199.40,533.37L200.41,533.39L201.41,533.41L202.42,533.43L203.42,533.45L204.43,533.47L205.43,533.48L206.44,533.50L207.44,533.52L208.45,533.53L209.45,533.55L210.45,533.56L211.46,533.58L212.46,533.59L213.47,533.60L214.47,533.62L215.48,533.63L216.48,533.65L217.49,533.66L218.49,533.68L219.50,533.69L260.00,533.70L261.00,533.70L262.01,533.69L263.01,533.69L264.01,533.69L265.02,533.68L266.02,533.68L267.02,533.68L268.03,533.68L269.03,533.68L270.03,533.68L271.04,533.68L272.04,533.68L273.05,533.69L274.05,533.70L275.06,533.71L276.06,533.72L277.07,533.73L278.08,533.74L279.08,533.75L280.09,533.76L281.10,533.76L282.10,533.76L283.11,533.75L284.11,533.73L285.12,533.70L286.12,533.66L287.12,533.60L288.12,533.51L289.11,533.40L290.10,533.27L291.08,533.10L292.05,532.90L293.01,532.66L293.97,532.39L294.91,532.08L295.83,531.74L296.74,531.36L297.64,530.93L298.51,530.48L299.36,529.98L300.19,529.45L301.00,528.88L301.79,528.28L302.55,527.65L303.29,526.99L304.01,526.30L304.71,525.59L305.39,524.85L306.05,524.10L306.71,523.34L307.35,522.56L307.99,521.78L308.63,521.01L309.27,520.23L309.92,519.47L310.58,518.72L311.26,517.99L311.95,517.28L312.66,516.59L313.39,515.93L314.14,515.30L314.92,514.70L315.72,514.13L316.54,513.59L317.38,513.07L318.24,512.58L319.11,512.11L320.00,511.66L320.90,511.22L321.80,510.79L322.72,510.37L323.63,509.95L324.55,509.53L325.46,509.12L326.38,508.70L327.30,508.28L328.22,507.87L329.13,507.46L330.05,507.06L330.97,506.66L331.90,506.28L332.83,505.91L333.76,505.56L334.71,505.22L335.65,504.92L336.61,504.64L337.57,504.39L338.54,504.16L339.52,503.97L340.50,503.80L341.49,503.67L342.49,503.57L343.49,503.49L344.49,503.45L345.49,503.43L346.49,503.45L347.50,503.49L348.50,503.57L349.49,503.67L350.49,503.81L351.47,503.97L352.45,504.17L353.42,504.40L354.38,504.66L355.33,504.96L356.26,505.29L357.19,505.65L358.10,506.05L358.99,506.48L359.87,506.94L360.74,507.43L361.59,507.94L362.43,508.48L363.26,509.04L364.07,509.62L364.88,510.22L365.67,510.83L366.46,511.46L367.25,512.08L368.03,512.72L368.81,513.35L369.59,513.99L370.37,514.63L371.16,515.26L371.94,515.89L372.73,516.51L373.52,517.13L374.31,517.75L375.11,518.36L375.91,518.96L376.72,519.56L377.52,520.16L378.33,520.75L379.15,521.35L379.96,521.93L380.78,522.52L381.60,523.10L382.42,523.68L383.25,524.26L384.08,524.83L384.91,525.39L385.75,525.95L386.59,526.50L387.44,527.03L388.30,527.55L389.16,528.05L390.04,528.53L390.92,528.99L391.82,529.42L392.72,529.82L393.64,530.20L394.57,530.54L395.50,530.86L396.45,531.14L397.41,531.40L398.37,531.62L399.35,531.82L400.33,531.99L401.32,532.13L402.31,532.26L403.31,532.36L404.31,532.45L405.31,532.53L406.31,532.60L407.32,532.65L408.32,532.70L409.33,532.75L410.33,532.78L411.34,532.82L412.34,532.85L413.35,532.89L414.35,532.92L415.36,532.95L416.36,532.98L417.36,533.01L418.37,533.04L419.37,533.06L420.37,533.09L421.38,533.12L422.38,533.14L423.38,533.17L424.39,533.19L425.39,533.21L426.39,533.24L427.40,533.26L428.40,533.28L429.40,533.30L430.41,533.32L431.41,533.34L432.41,533.36L433.41,533.37L434.42,533.39L435.42,533.41L436.42,533.43L437.43,533.45L438.43,533.46L439.43,533.48L440.44,533.49L441.44,533.51L442.44,533.52L443.45,533.53L444.45,533.55L445.45,533.56L446.46,533.57L447.46,533.58L448.46,533.59L449.47,533.60L450.47,533.61L451.47,533.62L452.48,533.63L453.48,533.64L454.48,533.65L455.49,533.66L456.49,533.67L457.49,533.67L458.50,533.68L459.50,533.69L503.00,533.70L504.00,533.70L505.01,533.69L506.01,533.69L507.01,533.69L508.01,533.68L509.02,533.68L510.02,533.68L511.02,533.68L512.03,533.68L513.03,533.68L514.03,533.68L515.04,533.68L516.04,533.69L517.05,533.70L518.05,533.71L519.06,533.72L520.06,533.73L521.07,533.74L522.08,533.75L523.08,533.76L524.09,533.76L525.09,533.76L526.10,533.75L527.10,533.73L528.11,533.70L529.11,533.66L530.11,533.60L531.11,533.51L532.10,533.40L533.08,533.27L534.06,533.10L535.04,532.90L536.00,532.66L536.95,532.39L537.89,532.08L538.82,531.74L539.72,531.35L540.62,530.93L541.49,530.47L542.34,529.97L543.17,529.44L543.98,528.87L544.76,528.27L545.53,527.64L546.26,526.98L546.98,526.29L547.68,525.58L548.36,524.84L549.02,524.09L549.67,523.32L550.32,522.55L550.95,521.77L551.59,520.99L552.23,520.21L552.87,519.45L553.53,518.69L554.20,517.96L554.89,517.24L555.59,516.56L556.32,515.89L557.07,515.26L557.85,514.66L558.64,514.08L559.46,513.53L560.30,513.01L561.15,512.52L562.02,512.04L562.91,511.59L563.80,511.14L564.71,510.71L565.62,510.29L566.53,509.87L567.44,509.45L568.36,509.03L569.27,508.61L570.19,508.20L571.11,507.78L572.02,507.37L572.94,506.97L573.86,506.57L574.78,506.19L575.71,505.82L576.65,505.47L577.58,505.14L578.53,504.84L579.48,504.56L580.44,504.31L581.41,504.09L582.39,503.89L583.37,503.72L584.36,503.58L585.35,503.46L586.35,503.37L587.35,503.30L588.35,503.25L589.36,503.22L590.36,503.22L591.37,503.24L592.38,503.28L593.38,503.34L594.38,503.43L595.38,503.54L596.37,503.67L597.35,503.84L598.33,504.03L599.31,504.25L600.27,504.51L601.22,504.79L602.16,505.11L603.09,505.46L604.00,505.84L604.90,506.25L605.79,506.69L606.67,507.17L607.53,507.67L608.37,508.19L609.21,508.74L610.03,509.31L610.84,509.90L611.64,510.50L612.44,511.11L613.23,511.73L614.01,512.36L614.80,513.00L615.58,513.63L616.36,514.27L617.14,514.90L617.92,515.53L618.70,516.16L619.49,516.78L620.28,517.40L621.08,518.01L621.87,518.62L622.67,519.23L623.48,519.83L624.29,520.43L625.09,521.02L625.91,521.61L626.72,522.20L627.54,522.79L628.36,523.37L629.18,523.95L630.01,524.53L630.84,525.10L631.67,525.66L632.51,526.21L633.36,526.75L634.21,527.28L635.07,527.79L635.94,528.28L636.81,528.75L637.70,529.20L638.60,529.62L639.51,530.01L640.43,530.37L641.36,530.70L642.30,531.00L643.26,531.27L644.22,531.51L645.19,531.72L646.17,531.90L647.15,532.06L648.14,532.19L649.13,532.31L650.13,532.41L651.13,532.49L652.13,532.56L653.14,532.62L654.14,532.67L655.15,532.72L656.15,532.76L657.16,532.80L658.16,532.83L659.17,532.87L660.17,532.90L661.18,532.93L662.18,532.96L663.18,532.99L664.19,533.02L665.19,533.05L666.19,533.07L667.19,533.10L668.20,533.13L669.20,533.15L670.20,533.18L671.20,533.20L672.21,533.22L673.21,533.24L674.21,533.26L675.21,533.29L676.22,533.31L677.22,533.33L678.22,533.35L679.23,533.36L680.23,533.38L681.23,533.40L682.23,533.42L683.24,533.44L684.24,533.45L685.24,533.47L686.24,533.48L687.25,533.50L688.25,533.51L689.25,533.53L690.26,533.54L691.26,533.55L692.26,533.56L693.26,533.57L694.27,533.58L695.27,533.59L696.27,533.60L697.27,533.61L698.28,533.62L699.28,533.63L700.28,533.64L701.29,533.65L702.29,533.66L703.29,533.67L704.29,533.68L705.30,533.69L706.30,533.70" stroke="#ec6f2e" stroke-width="3.90" fill="none" stroke-linejoin="round" stroke-linecap="round"/>
<path clip-path="url(#c)" d="M33.00,533.69L34.00,533.69L35.00,533.69L36.01,533.68L37.01,533.68L38.01,533.68L39.02,533.68L40.02,533.69L41.02,533.69L42.03,533.69L43.03,533.70L44.04,533.71L45.05,533.71L46.05,533.72L47.06,533.72L48.07,533.73L49.08,533.72L50.09,533.72L51.10,533.70L52.11,533.68L53.12,533.64L54.13,533.59L55.13,533.53L56.13,533.44L57.12,533.32L58.10,533.19L59.08,533.02L60.04,532.82L60.99,532.57L61.93,532.29L62.85,531.96L63.74,531.59L64.62,531.17L65.48,530.71L66.31,530.20L67.12,529.66L67.91,529.07L68.68,528.45L69.42,527.80L70.14,527.11L70.84,526.40L71.52,525.67L72.19,524.91L72.84,524.14L73.47,523.36L74.09,522.56L74.70,521.76L75.30,520.95L75.89,520.13L76.48,519.31L77.07,518.49L77.65,517.67L78.24,516.86L78.83,516.04L79.42,515.23L80.02,514.43L80.63,513.63L81.24,512.84L81.86,512.05L82.48,511.27L83.12,510.49L83.76,509.72L84.40,508.95L85.06,508.19L85.71,507.43L86.37,506.67L87.04,505.92L87.71,505.17L88.39,504.42L89.07,503.67L89.75,502.94L90.45,502.21L91.15,501.49L91.87,500.79L92.59,500.10L93.34,499.44L94.10,498.80L94.88,498.19L95.68,497.60L96.50,497.05L97.34,496.54L98.20,496.07L99.08,495.63L99.98,495.24L100.91,494.88L101.84,494.56L102.80,494.29L103.76,494.06L104.74,493.86L105.73,493.71L106.72,493.60L107.72,493.53L108.72,493.50L109.73,493.51L110.73,493.57L111.73,493.66L112.72,493.80L113.71,493.97L114.69,494.18L115.66,494.43L116.62,494.71L117.56,495.03L118.49,495.39L119.41,495.78L120.31,496.21L121.19,496.67L122.06,497.16L122.90,497.68L123.73,498.24L124.53,498.82L125.32,499.44L126.08,500.07L126.83,500.74L127.56,501.42L128.28,502.12L128.99,502.83L129.68,503.56L130.37,504.29L131.06,505.03L131.74,505.76L132.42,506.50L133.11,507.23L133.81,507.96L134.51,508.67L135.22,509.37L135.95,510.07L136.68,510.74L137.43,511.41L138.19,512.06L138.96,512.69L139.74,513.31L140.54,513.91L141.35,514.50L142.16,515.08L142.99,515.65L143.82,516.20L144.67,516.75L145.51,517.28L146.36,517.81L147.22,518.33L148.08,518.85L148.95,519.36L149.82,519.86L150.69,520.36L151.57,520.85L152.45,521.33L153.33,521.80L154.22,522.26L155.12,522.71L156.02,523.15L156.92,523.57L157.84,523.98L158.75,524.38L159.68,524.76L160.61,525.12L161.55,525.47L162.49,525.80L163.44,526.12L164.39,526.42L165.35,526.71L166.31,526.99L167.27,527.26L168.24,527.52L169.21,527.77L170.19,528.01L171.16,528.25L172.14,528.48L173.11,528.71L174.09,528.93L175.07,529.15L176.05,529.37L177.03,529.57L178.01,529.78L178.99,529.97L179.98,530.16L180.96,530.35L181.95,530.52L182.94,530.69L183.93,530.85L184.92,531.00L185.91,531.15L186.90,531.29L187.89,531.42L188.89,531.54L189.88,531.66L190.88,531.77L191.88,531.88L192.88,531.98L193.87,532.07L194.87,532.16L195.87,532.25L196.87,532.33L197.87,532.41L198.87,532.48L199.87,532.55L200.87,532.61L201.87,532.68L202.87,532.74L203.87,532.79L204.87,532.85L205.87,532.90L206.88,532.95L207.88,532.99L208.88,533.04L209.88,533.08L210.88,533.12L211.88,533.16L212.89,533.19L213.89,533.22L214.89,533.26L215.89,533.28L216.89,533.31L217.90,533.33L218.90,533.36L219.90,533.38L220.90,533.40L221.91,533.41L222.91,533.43L223.91,533.45L224.91,533.46L225.92,533.48L226.92,533.49L227.92,533.50L228.92,533.52L229.92,533.53L230.93,533.54L231.93,533.55L232.93,533.56L233.93,533.57L234.94,533.58L235.94,533.59L236.94,533.60L237.94,533.61L238.95,533.61L239.95,533.62L240.95,533.63L241.95,533.63L242.96,533.64L243.96,533.64L244.96,533.64L245.96,533.65L246.97,533.65L247.97,533.66L248.97,533.66L249.97,533.66L250.98,533.67L251.98,533.67L252.98,533.67L253.98,533.68L254.99,533.68L255.99,533.68L256.99,533.69L257.99,533.69L259.00,533.70L260.00,533.70L260.00,533.70L261.00,533.70L262.01,533.69L263.01,533.69L264.01,533.68L265.02,533.68L266.02,533.68L267.02,533.68L268.02,533.68L269.03,533.68L270.03,533.68L271.04,533.69L272.04,533.69L273.04,533.70L274.05,533.70L275.05,533.70L276.06,533.71L277.06,533.71L278.07,533.71L279.07,533.71L280.08,533.70L281.09,533.69L282.09,533.67L283.10,533.65L284.10,533.61L285.11,533.56L286.12,533.50L287.12,533.43L288.12,533.33L289.12,533.22L290.11,533.08L291.10,532.91L292.07,532.71L293.04,532.49L294.00,532.23L294.95,531.93L295.88,531.60L296.80,531.24L297.70,530.83L298.58,530.39L299.44,529.91L300.27,529.39L301.09,528.84L301.88,528.26L302.65,527.64L303.39,526.99L304.12,526.31L304.82,525.60L305.50,524.87L306.15,524.12L306.80,523.35L307.42,522.57L308.03,521.77L308.62,520.96L309.21,520.14L309.78,519.31L310.35,518.48L310.90,517.64L311.46,516.80L312.01,515.96L312.56,515.12L313.12,514.28L313.67,513.44L314.23,512.60L314.79,511.77L315.36,510.95L315.94,510.13L316.53,509.31L317.12,508.51L317.73,507.71L318.35,506.92L318.97,506.13L319.61,505.36L320.26,504.59L320.92,503.84L321.59,503.09L322.28,502.35L322.97,501.63L323.68,500.91L324.39,500.21L325.12,499.52L325.87,498.84L326.62,498.18L327.39,497.54L328.18,496.92L328.98,496.32L329.79,495.74L330.62,495.19L331.47,494.67L332.33,494.17L333.21,493.70L334.10,493.26L335.00,492.85L335.92,492.47L336.86,492.12L337.80,491.79L338.76,491.50L339.72,491.24L340.70,491.01L341.68,490.80L342.67,490.63L343.66,490.48L344.66,490.35L345.66,490.26L346.66,490.19L347.66,490.14L348.67,490.13L349.67,490.14L350.67,490.18L351.67,490.25L352.66,490.35L353.65,490.48L354.64,490.64L355.61,490.84L356.58,491.06L357.55,491.32L358.50,491.60L359.45,491.92L360.39,492.26L361.32,492.64L362.23,493.03L363.14,493.46L364.04,493.90L364.93,494.37L365.81,494.86L366.68,495.37L367.53,495.89L368.38,496.44L369.20,497.00L370.01,497.59L370.80,498.19L371.57,498.81L372.32,499.46L373.05,500.12L373.76,500.81L374.44,501.52L375.10,502.25L375.74,503.00L376.36,503.77L376.97,504.56L377.56,505.36L378.14,506.17L378.71,506.99L379.27,507.82L379.83,508.65L380.40,509.49L380.96,510.32L381.54,511.15L382.12,511.97L382.71,512.79L383.31,513.60L383.93,514.39L384.56,515.18L385.20,515.95L385.86,516.71L386.54,517.45L387.23,518.17L387.94,518.87L388.67,519.56L389.42,520.22L390.18,520.85L390.96,521.46L391.77,522.04L392.59,522.59L393.43,523.11L394.29,523.59L395.16,524.05L396.06,524.48L396.96,524.87L397.89,525.24L398.82,525.57L399.77,525.88L400.73,526.17L401.69,526.44L402.66,526.68L403.64,526.91L404.62,527.12L405.61,527.33L406.60,527.52L407.59,527.70L408.58,527.87L409.57,528.05L410.56,528.21L411.56,528.38L412.55,528.54L413.54,528.70L414.53,528.86L415.52,529.02L416.52,529.18L417.51,529.34L418.50,529.50L419.49,529.66L420.48,529.82L421.47,529.97L422.46,530.13L423.45,530.28L424.44,530.43L425.43,530.58L426.43,530.73L427.42,530.87L428.41,531.01L429.41,531.14L430.40,531.28L431.39,531.40L432.39,531.52L433.39,531.64L434.38,531.76L435.38,531.87L436.38,531.97L437.37,532.07L438.37,532.17L439.37,532.27L440.37,532.36L441.37,532.44L442.37,532.52L443.37,532.60L444.37,532.68L445.37,532.75L446.37,532.81L447.37,532.87L448.37,532.93L449.37,532.98L450.37,533.03L451.38,533.08L452.38,533.12L453.38,533.16L454.38,533.20L455.38,533.23L456.39,533.27L457.39,533.30L458.39,533.32L459.39,533.35L460.40,533.37L461.40,533.39L462.40,533.41L463.41,533.43L464.41,533.45L465.41,533.46L466.41,533.47L467.42,533.48L468.42,533.49L469.42,533.51L470.43,533.51L471.43,533.52L472.43,533.53L473.44,533.54L474.44,533.55L475.44,533.56L476.44,533.57L477.45,533.58L478.45,533.58L479.45,533.59L480.46,533.60L481.46,533.61L482.46,533.62L483.47,533.62L484.47,533.63L485.47,533.64L486.47,533.64L487.48,533.65L488.48,533.66L489.48,533.66L490.49,533.67L491.49,533.68L492.49,533.68L493.50,533.69L494.50,533.70L503.00,533.70L504.00,533.70L505.01,533.69L506.01,533.69L507.01,533.68L508.02,533.68L509.02,533.68L510.03,533.68L511.03,533.68L512.03,533.68L513.04,533.68L514.04,533.69L515.05,533.69L516.05,533.70L517.06,533.70L518.06,533.70L519.07,533.71L520.07,533.71L521.08,533.71L522.09,533.71L523.09,533.70L524.10,533.69L525.11,533.67L526.11,533.64L527.12,533.61L528.13,533.56L529.13,533.50L530.14,533.42L531.14,533.33L532.13,533.21L533.13,533.07L534.11,532.90L535.09,532.70L536.06,532.48L537.02,532.21L537.97,531.92L538.90,531.59L539.82,531.22L540.71,530.81L541.59,530.37L542.45,529.88L543.29,529.36L544.10,528.81L544.89,528.22L545.66,527.60L546.40,526.94L547.12,526.26L547.82,525.55L548.50,524.82L549.16,524.07L549.80,523.30L550.42,522.51L551.02,521.71L551.62,520.90L552.20,520.08L552.77,519.25L553.33,518.41L553.89,517.57L554.45,516.73L555.00,515.89L555.55,515.04L556.10,514.20L556.65,513.36L557.21,512.52L557.77,511.69L558.34,510.86L558.91,510.04L559.50,509.22L560.09,508.41L560.69,507.61L561.31,506.82L561.93,506.03L562.57,505.26L563.22,504.49L563.87,503.73L564.54,502.98L565.22,502.24L565.91,501.51L566.62,500.79L567.33,500.08L568.06,499.39L568.80,498.71L569.55,498.04L570.32,497.40L571.10,496.77L571.90,496.17L572.71,495.59L573.54,495.04L574.39,494.51L575.25,494.01L576.12,493.55L577.01,493.11L577.92,492.71L578.84,492.33L579.77,491.99L580.72,491.68L581.67,491.40L582.64,491.14L583.62,490.92L584.60,490.71L585.59,490.54L586.58,490.38L587.58,490.25L588.58,490.14L589.59,490.05L590.59,489.98L591.60,489.93L592.61,489.91L593.61,489.91L594.62,489.93L595.62,489.98L596.61,490.05L597.61,490.15L598.60,490.28L599.58,490.44L600.56,490.63L601.53,490.85L602.49,491.10L603.45,491.38L604.40,491.69L605.34,492.02L606.27,492.38L607.20,492.77L608.11,493.18L609.02,493.62L609.92,494.07L610.81,494.54L611.68,495.03L612.55,495.54L613.41,496.06L614.25,496.61L615.09,497.16L615.90,497.74L616.70,498.33L617.48,498.94L618.25,499.58L618.99,500.23L619.71,500.90L620.41,501.60L621.10,502.31L621.76,503.05L622.40,503.80L623.03,504.57L623.65,505.36L624.25,506.15L624.85,506.96L625.44,507.77L626.02,508.59L626.61,509.41L627.19,510.23L627.78,511.05L628.37,511.87L628.98,512.68L629.59,513.48L630.21,514.27L630.84,515.06L631.49,515.83L632.15,516.59L632.82,517.33L633.52,518.05L634.22,518.76L634.95,519.45L635.69,520.11L636.45,520.75L637.23,521.36L638.03,521.95L638.85,522.50L639.69,523.02L640.55,523.52L641.42,523.98L642.31,524.40L643.22,524.80L644.14,525.17L645.07,525.51L646.02,525.83L646.98,526.12L647.94,526.38L648.91,526.63L649.89,526.86L650.87,527.08L651.86,527.28L652.85,527.47L653.84,527.66L654.83,527.83L655.82,528.01L656.82,528.17L657.81,528.34L658.80,528.50L659.80,528.66L660.79,528.83L661.78,528.99L662.77,529.15L663.76,529.31L664.75,529.47L665.75,529.63L666.74,529.79L667.73,529.95L668.72,530.10L669.71,530.26L670.70,530.41L671.69,530.56L672.69,530.71L673.68,530.85L674.67,530.99L675.67,531.13L676.66,531.26L677.66,531.38L678.65,531.51L679.65,531.63L680.65,531.74L681.64,531.85L682.64,531.96L683.64,532.06L684.64,532.16L685.64,532.25L686.64,532.35L687.64,532.43L688.64,532.52L689.64,532.59L690.64,532.67L691.64,532.74L692.64,532.81L693.64,532.87L694.64,532.92L695.65,532.98L696.65,533.03L697.65,533.07L698.65,533.12L699.66,533.16L700.66,533.20L701.66,533.23L702.66,533.26L703.67,533.29L704.67,533.32L705.67,533.35L706.68,533.37L707.68,533.39L708.68,533.41L709.69,533.43L710.69,533.44L711.69,533.46L712.70,533.47L713.70,533.48L714.70,533.49L715.71,533.50L716.71,533.51L717.72,533.52L718.72,533.53L719.72,533.54L720.73,533.55L721.73,533.56L722.73,533.57L723.74,533.57L724.74,533.58L725.74,533.59L726.75,533.60L727.75,533.61L728.76,533.62L729.76,533.62L730.76,533.63L731.77,533.64L732.77,533.64L733.77,533.65L734.78,533.66L735.78,533.66L736.78,533.67L737.79,533.68L738.79,533.68L739.79,533.69L740.80,533.70" stroke="#17ee17" stroke-width="3.90" fill="none" stroke-linejoin="round" stroke-linecap="round"/>
<path clip-path="url(#c)" d="M33.00,533.75L34.00,533.75L35.00,533.76L36.01,533.77L37.01,533.78L38.02,533.80L39.03,533.82L40.05,533.84L41.06,533.86L42.07,533.88L43.09,533.89L44.10,533.89L45.12,533.88L46.13,533.85L47.14,533.81L48.14,533.74L49.14,533.65L50.13,533.53L51.12,533.39L52.09,533.20L53.05,532.99L54.00,532.73L54.93,532.43L55.85,532.09L56.75,531.71L57.63,531.29L58.49,530.82L59.32,530.31L60.13,529.75L60.91,529.16L61.67,528.52L62.39,527.85L63.09,527.14L63.76,526.40L64.40,525.64L65.01,524.85L65.59,524.04L66.14,523.20L66.66,522.35L67.15,521.48L67.61,520.59L68.04,519.69L68.45,518.78L68.84,517.86L69.20,516.93L69.55,515.99L69.87,515.04L70.19,514.09L70.49,513.13L70.78,512.17L71.07,511.21L71.36,510.24L71.64,509.28L71.93,508.31L72.21,507.35L72.50,506.39L72.80,505.43L73.09,504.47L73.40,503.51L73.71,502.56L74.03,501.61L74.35,500.66L74.68,499.72L75.02,498.77L75.36,497.83L75.71,496.89L76.06,495.95L76.41,495.01L76.77,494.08L77.14,493.14L77.50,492.21L77.88,491.28L78.25,490.35L78.63,489.42L79.01,488.49L79.40,487.56L79.79,486.64L80.19,485.72L80.59,484.80L81.01,483.88L81.43,482.97L81.86,482.06L82.30,481.16L82.75,480.26L83.21,479.37L83.69,478.48L84.18,477.60L84.69,476.74L85.22,475.88L85.76,475.03L86.33,474.20L86.91,473.38L87.52,472.59L88.15,471.81L88.81,471.07L89.49,470.34L90.20,469.65L90.94,468.99L91.71,468.36L92.51,467.77L93.34,467.22L94.19,466.70L95.07,466.23L95.97,465.80L96.90,465.42L97.84,465.08L98.80,464.80L99.76,464.58L100.74,464.42L101.71,464.32L102.69,464.30L103.66,464.35L104.62,464.47L105.56,464.66L106.49,464.92L107.41,465.24L108.30,465.62L109.17,466.06L110.01,466.55L110.83,467.08L111.63,467.66L112.41,468.28L113.17,468.93L113.90,469.61L114.62,470.31L115.33,471.03L116.02,471.77L116.70,472.53L117.37,473.29L118.03,474.06L118.68,474.84L119.33,475.62L119.96,476.41L120.58,477.20L121.20,478.00L121.80,478.81L122.39,479.62L122.97,480.43L123.53,481.26L124.08,482.09L124.62,482.94L125.14,483.79L125.65,484.64L126.15,485.51L126.65,486.38L127.13,487.25L127.61,488.13L128.09,489.01L128.57,489.90L129.05,490.78L129.53,491.66L130.01,492.53L130.50,493.40L131.00,494.27L131.50,495.14L132.01,496.00L132.53,496.86L133.04,497.71L133.56,498.57L134.09,499.42L134.60,500.27L135.12,501.13L135.63,501.99L136.13,502.85L136.63,503.72L137.11,504.59L137.59,505.47L138.06,506.36L138.52,507.25L138.97,508.14L139.42,509.04L139.86,509.94L140.30,510.85L140.75,511.75L141.19,512.66L141.65,513.56L142.11,514.45L142.59,515.34L143.08,516.21L143.59,517.08L144.12,517.92L144.68,518.75L145.26,519.56L145.86,520.34L146.50,521.09L147.16,521.82L147.86,522.51L148.58,523.17L149.34,523.79L150.12,524.38L150.93,524.93L151.76,525.44L152.62,525.92L153.50,526.37L154.41,526.78L155.32,527.16L156.26,527.52L157.20,527.85L158.16,528.16L159.12,528.44L160.09,528.71L161.07,528.96L162.05,529.19L163.03,529.41L164.02,529.62L165.01,529.82L166.00,530.01L166.99,530.19L167.98,530.35L168.97,530.52L169.96,530.67L170.96,530.81L171.95,530.95L172.94,531.08L173.94,531.21L174.93,531.32L175.93,531.44L176.93,531.54L177.92,531.64L178.92,531.73L179.92,531.82L180.92,531.90L181.92,531.98L182.92,532.05L183.92,532.12L184.92,532.19L185.92,532.25L186.92,532.31L187.92,532.36L188.92,532.41L189.92,532.46L190.92,532.50L191.93,532.54L192.93,532.58L193.93,532.62L194.93,532.66L195.93,532.69L196.93,532.72L197.94,532.75L198.94,532.78L199.94,532.81L200.94,532.84L201.94,532.87L202.95,532.90L203.95,532.93L204.95,532.95L205.95,532.98L206.95,533.01L207.95,533.03L208.96,533.06L209.96,533.09L210.96,533.11L211.96,533.13L212.96,533.16L213.97,533.18L214.97,533.20L215.97,533.22L216.97,533.24L217.97,533.26L218.98,533.29L219.98,533.30L220.98,533.32L221.98,533.34L222.99,533.36L223.99,533.38L224.99,533.40L225.99,533.42L226.99,533.44L228.00,533.46L229.00,533.48L230.00,533.50L225.00,533.60L226.00,533.60L227.00,533.60L228.00,533.60L229.01,533.60L230.01,533.60L231.01,533.60L232.01,533.60L233.01,533.60L234.01,533.60L235.02,533.60L236.02,533.60L237.02,533.60L238.02,533.60L239.02,533.60L240.02,533.60L241.03,533.60L242.03,533.60L243.03,533.60L244.03,533.60L245.03,533.60L246.03,533.60L247.04,533.60L248.04,533.60L249.04,533.60L250.04,533.60L251.04,533.60L252.04,533.60L253.05,533.60L254.05,533.60L255.05,533.60L256.05,533.60L257.05,533.60L258.05,533.60L259.06,533.60L260.06,533.61L261.06,533.61L262.06,533.61L263.06,533.61L264.06,533.62L265.07,533.62L266.07,533.62L267.07,533.63L268.08,533.64L269.08,533.64L270.08,533.65L271.09,533.65L272.09,533.66L273.10,533.66L274.11,533.66L275.11,533.65L276.12,533.63L277.13,533.61L278.14,533.58L279.14,533.53L280.15,533.46L281.15,533.37L282.14,533.27L283.14,533.13L284.12,532.97L285.10,532.77L286.07,532.54L287.02,532.27L287.96,531.96L288.88,531.62L289.79,531.23L290.67,530.80L291.53,530.32L292.37,529.81L293.17,529.25L293.95,528.65L294.70,528.01L295.42,527.34L296.11,526.63L296.76,525.89L297.38,525.12L297.96,524.32L298.51,523.49L299.03,522.65L299.52,521.78L299.97,520.89L300.40,519.99L300.80,519.07L301.18,518.15L301.53,517.21L301.87,516.26L302.19,515.31L302.51,514.36L302.81,513.40L303.11,512.44L303.40,511.47L303.70,510.51L303.99,509.55L304.29,508.59L304.60,507.64L304.90,506.68L305.22,505.73L305.55,504.78L305.88,503.84L306.22,502.89L306.56,501.95L306.92,501.02L307.28,500.08L307.65,499.15L308.02,498.22L308.40,497.30L308.78,496.37L309.17,495.45L309.56,494.53L309.96,493.61L310.35,492.69L310.75,491.77L311.15,490.85L311.55,489.93L311.96,489.01L312.36,488.09L312.76,487.18L313.17,486.26L313.58,485.35L313.99,484.43L314.41,483.52L314.84,482.61L315.26,481.71L315.70,480.81L316.15,479.91L316.60,479.01L317.06,478.12L317.53,477.24L318.02,476.36L318.51,475.49L319.02,474.62L319.54,473.76L320.08,472.91L320.62,472.07L321.19,471.23L321.76,470.41L322.35,469.60L322.96,468.80L323.59,468.01L324.23,467.25L324.90,466.50L325.58,465.77L326.29,465.07L327.01,464.39L327.77,463.74L328.54,463.12L329.34,462.54L330.16,461.99L331.00,461.48L331.87,461.00L332.76,460.57L333.66,460.17L334.59,459.81L335.53,459.49L336.49,459.21L337.46,458.98L338.44,458.79L339.43,458.64L340.42,458.55L341.41,458.50L342.41,458.50L343.40,458.56L344.39,458.66L345.37,458.82L346.35,459.02L347.31,459.26L348.26,459.55L349.19,459.88L350.11,460.25L351.02,460.66L351.90,461.11L352.77,461.59L353.62,462.11L354.45,462.66L355.26,463.24L356.05,463.84L356.83,464.48L357.58,465.14L358.32,465.82L359.03,466.52L359.73,467.24L360.42,467.98L361.08,468.73L361.73,469.49L362.36,470.27L362.97,471.07L363.57,471.87L364.15,472.69L364.71,473.52L365.26,474.35L365.80,475.20L366.32,476.06L366.82,476.92L367.32,477.79L367.80,478.67L368.28,479.55L368.74,480.44L369.20,481.33L369.66,482.22L370.11,483.12L370.56,484.01L371.01,484.91L371.45,485.81L371.90,486.71L372.35,487.60L372.80,488.50L373.25,489.39L373.70,490.29L374.16,491.18L374.62,492.07L375.08,492.96L375.54,493.85L376.00,494.74L376.46,495.63L376.92,496.52L377.37,497.41L377.83,498.30L378.28,499.20L378.73,500.09L379.18,500.99L379.62,501.89L380.06,502.78L380.50,503.69L380.93,504.59L381.36,505.49L381.79,506.40L382.22,507.30L382.65,508.21L383.08,509.12L383.52,510.02L383.95,510.93L384.38,511.84L384.82,512.74L385.27,513.65L385.72,514.56L386.17,515.46L386.64,516.36L387.11,517.25L387.60,518.14L388.10,519.01L388.61,519.88L389.15,520.73L389.70,521.56L390.28,522.37L390.88,523.15L391.52,523.90L392.18,524.61L392.87,525.29L393.60,525.92L394.36,526.51L395.14,527.06L395.96,527.56L396.81,528.00L397.69,528.41L398.59,528.76L399.52,529.08L400.46,529.35L401.42,529.58L402.40,529.78L403.38,529.96L404.38,530.10L405.38,530.23L406.38,530.34L407.39,530.43L408.39,530.52L409.40,530.59L410.41,530.66L411.42,530.73L412.42,530.80L413.43,530.86L414.43,530.92L415.44,530.98L416.44,531.05L417.44,531.11L418.44,531.17L419.44,531.24L420.44,531.30L421.44,531.36L422.44,531.43L423.44,531.49L424.44,531.55L425.44,531.61L426.44,531.67L427.44,531.73L428.44,531.79L429.44,531.84L430.44,531.90L431.44,531.95L432.44,532.01L433.44,532.06L434.44,532.11L435.44,532.16L436.44,532.21L437.44,532.26L438.44,532.31L439.45,532.35L440.45,532.39L441.45,532.44L442.45,532.48L443.45,532.52L444.45,532.56L445.45,532.59L446.45,532.63L447.45,532.67L448.45,532.70L449.45,532.74L450.45,532.77L451.46,532.81L452.46,532.84L453.46,532.88L454.46,532.91L455.46,532.95L456.46,532.98L457.46,533.01L458.46,533.05L459.46,533.08L460.47,533.11L461.47,533.15L462.47,533.18L463.47,533.21L464.47,533.24L465.47,533.26L466.47,533.29L467.47,533.32L468.48,533.34L469.48,533.37L470.48,533.39L471.48,533.41L472.48,533.43L473.48,533.45L474.48,533.47L475.49,533.48L476.49,533.50L477.49,533.51L478.49,533.52L479.49,533.53L480.49,533.55L481.49,533.56L482.50,533.57L483.50,533.58L484.50,533.59L512.97,533.46L513.99,533.52L515.00,533.57L516.02,533.62L517.03,533.66L518.05,533.69L519.07,533.70L520.09,533.70L521.11,533.68L522.12,533.65L523.13,533.59L524.14,533.50L525.14,533.39L526.14,533.24L527.12,533.07L528.10,532.86L529.06,532.61L530.01,532.33L530.95,532.01L531.87,531.65L532.77,531.26L533.64,530.82L534.50,530.33L535.33,529.81L536.14,529.25L536.92,528.65L537.67,528.02L538.39,527.34L539.07,526.63L539.73,525.89L540.34,525.12L540.93,524.32L541.48,523.49L542.00,522.64L542.49,521.77L542.94,520.89L543.37,519.98L543.77,519.07L544.15,518.14L544.51,517.20L544.84,516.25L545.17,515.30L545.48,514.34L545.78,513.38L546.08,512.42L546.37,511.45L546.66,510.49L546.96,509.53L547.26,508.57L547.56,507.61L547.87,506.65L548.18,505.70L548.50,504.75L548.83,503.80L549.17,502.85L549.51,501.91L549.87,500.97L550.22,500.04L550.59,499.10L550.96,498.17L551.34,497.24L551.72,496.32L552.11,495.39L552.50,494.47L552.89,493.54L553.29,492.62L553.68,491.70L554.08,490.78L554.48,489.86L554.88,488.94L555.28,488.02L555.69,487.10L556.09,486.18L556.50,485.26L556.91,484.35L557.33,483.44L557.75,482.52L558.18,481.62L558.61,480.71L559.05,479.81L559.50,478.91L559.96,478.02L560.43,477.13L560.91,476.25L561.40,475.37L561.90,474.50L562.42,473.64L562.95,472.78L563.49,471.94L564.05,471.10L564.62,470.27L565.21,469.45L565.81,468.64L566.43,467.85L567.07,467.08L567.73,466.32L568.41,465.58L569.11,464.87L569.83,464.19L570.57,463.53L571.34,462.90L572.13,462.30L572.94,461.74L573.78,461.22L574.64,460.73L575.52,460.28L576.43,459.87L577.35,459.50L578.29,459.17L579.24,458.88L580.21,458.63L581.19,458.43L582.17,458.27L583.17,458.16L584.16,458.10L585.16,458.09L586.15,458.14L587.14,458.23L588.13,458.37L589.10,458.57L590.07,458.80L591.02,459.08L591.96,459.41L592.89,459.77L593.80,460.17L594.69,460.60L595.56,461.08L596.42,461.58L597.26,462.12L598.09,462.69L598.89,463.28L599.68,463.90L600.45,464.55L601.21,465.21L601.95,465.89L602.67,466.59L603.38,467.30L604.08,468.03L604.76,468.77L605.42,469.53L606.07,470.29L606.71,471.07L607.33,471.85L607.94,472.65L608.54,473.46L609.12,474.27L609.69,475.10L610.25,475.93L610.80,476.77L611.33,477.62L611.86,478.47L612.38,479.33L612.89,480.19L613.40,481.06L613.91,481.93L614.41,482.80L614.90,483.67L615.40,484.54L615.89,485.41L616.39,486.29L616.89,487.16L617.39,488.03L617.89,488.90L618.39,489.77L618.89,490.64L619.40,491.50L619.91,492.37L620.42,493.23L620.92,494.10L621.43,494.96L621.94,495.82L622.45,496.69L622.96,497.55L623.47,498.42L623.97,499.29L624.47,500.16L624.96,501.03L625.45,501.90L625.94,502.78L626.43,503.66L626.91,504.54L627.38,505.42L627.85,506.30L628.32,507.19L628.78,508.08L629.24,508.98L629.70,509.87L630.16,510.77L630.61,511.67L631.07,512.57L631.52,513.47L631.98,514.37L632.44,515.27L632.91,516.17L633.38,517.07L633.87,517.96L634.36,518.84L634.87,519.71L635.40,520.56L635.95,521.40L636.53,522.21L637.12,523.00L637.75,523.76L638.41,524.48L639.09,525.17L639.81,525.81L640.57,526.41L641.35,526.96L642.17,527.47L643.01,527.92L643.89,528.33L644.79,528.70L645.71,529.02L646.65,529.29L647.61,529.53L648.59,529.74L649.57,529.92L650.56,530.07L651.57,530.20L652.57,530.31L653.58,530.41L654.59,530.49L655.60,530.57L656.61,530.64L657.62,530.71L658.62,530.77L659.63,530.84L660.64,530.90L661.64,530.96L662.65,531.03L663.65,531.09L664.65,531.15L665.65,531.22L666.65,531.28L667.66,531.34L668.66,531.41L669.66,531.47L670.66,531.53L671.66,531.59L672.66,531.65L673.66,531.71L674.66,531.77L675.67,531.83L676.67,531.89L677.67,531.94L678.67,531.99L679.67,532.05L680.67,532.10L681.67,532.15L682.68,532.20L683.68,532.25L684.68,532.29L685.68,532.34L686.68,532.38L687.69,532.43L688.69,532.47L689.69,532.51L690.69,532.55L691.70,532.59L692.70,532.62L693.70,532.66L694.70,532.70L695.70,532.73L696.71,532.77L697.71,532.80L698.71,532.84L699.71,532.87L700.72,532.91L701.72,532.94L702.72,532.97L703.72,533.01L704.73,533.04L705.73,533.08L706.73,533.11L707.73,533.14L708.74,533.17L709.74,533.20L710.74,533.23L711.74,533.26L712.75,533.29L713.75,533.32L714.75,533.34L715.76,533.36L716.76,533.39L717.76,533.41L718.76,533.43L719.77,533.45L720.77,533.46L721.77,533.48L722.77,533.49L723.78,533.51L724.78,533.52L725.78,533.53L726.79,533.54L727.79,533.56L728.79,533.57L729.80,533.58L730.80,533.59" stroke="#e80ee8" stroke-width="3.90" fill="none" stroke-linejoin="round" stroke-linecap="round"/>
<text x="12.96" y="543.40" font-size="19.50">0</text>
<path class="one" transform="translate(12.96,493.40) scale(0.00952,-0.00952)" d="M565,0L746,0L746,1466L630,1466Q590,1380 480,1285Q370,1190 220,1125L220,1290Q330,1340 440,1420Q520,1480 560,1466Z"/>
<text x="12.96" y="443.30" font-size="19.50">2</text>
<text x="12.96" y="395.10" font-size="19.50">3</text>
<text x="12.96" y="344.70" font-size="19.50">4</text>
<text x="12.96" y="296.20" font-size="19.50">5</text>
<text x="12.96" y="248.00" font-size="19.50">6</text>
<text x="12.96" y="197.70" font-size="19.50">7</text>
<text x="12.96" y="149.40" font-size="19.50">8</text>
<text x="12.96" y="99.10" font-size="19.50">9</text>
<path class="one" transform="translate(2.11,50.10) scale(0.00952,-0.00952)" d="M565,0L746,0L746,1466L630,1466Q590,1380 480,1285Q370,1190 220,1125L220,1290Q330,1340 440,1420Q520,1480 560,1466Z"/><text x="12.96" y="50.10" font-size="19.50">0</text>
<text x="150.66" y="564.20" font-size="19.50">5</text><text x="161.50" y="564.20" font-size="19.50">0</text>
<path class="one" transform="translate(272.73,564.20) scale(0.00952,-0.00952)" d="M565,0L746,0L746,1466L630,1466Q590,1380 480,1285Q370,1190 220,1125L220,1290Q330,1340 440,1420Q520,1480 560,1466Z"/><text x="283.58" y="564.20" font-size="19.50">0</text><text x="294.42" y="564.20" font-size="19.50">0</text>
<path class="one" transform="translate(402.03,564.20) scale(0.00952,-0.00952)" d="M565,0L746,0L746,1466L630,1466Q590,1380 480,1285Q370,1190 220,1125L220,1290Q330,1340 440,1420Q520,1480 560,1466Z"/><text x="412.88" y="564.20" font-size="19.50">5</text><text x="423.72" y="564.20" font-size="19.50">0</text>
<text x="532.03" y="564.20" font-size="19.50">2</text><text x="542.88" y="564.20" font-size="19.50">0</text><text x="553.72" y="564.20" font-size="19.50">0</text>
<path d="M35.9,17.9L44.0,25.8M44.0,17.9L35.9,25.8" stroke="#484848" stroke-width="1.15" fill="none"/>
<path class="one" transform="translate(48.70,26.30) scale(0.00928,-0.00928)" d="M565,0L746,0L746,1466L630,1466Q590,1380 480,1285Q370,1190 220,1125L220,1290Q330,1340 440,1420Q520,1480 560,1466Z"/><text x="59.27" y="26.30" font-size="19.00">0</text>
<text x="71.0" y="17.1" font-size="14.5">6</text>
<text x="355.3" y="593.6" text-anchor="middle" font-size="21.5">time</text>
<rect x="401.80" y="31.80" width="110.10" height="148.50" fill="#ffffff" stroke="#333333" stroke-width="1.3"/>
<path d="M408.2,45.00H467.2" stroke="#e80e0e" stroke-width="3.90"/>
<text x="471.0" y="52.90" font-size="17.5" letter-spacing="0.25" fill="#222222" style="stroke:#222222;stroke-width:0.25px">I(t)</text>
<path d="M408.2,69.90H467.2" stroke="#808080" stroke-width="3.90"/>
<text x="471.0" y="77.80" font-size="17.5" letter-spacing="0.25" fill="#222222" style="stroke:#222222;stroke-width:0.25px">IA(t)</text>
<path d="M408.2,93.80H467.2" stroke="#1070aa" stroke-width="3.90"/>
<text x="471.0" y="101.70" font-size="17.5" letter-spacing="0.25" fill="#222222" style="stroke:#222222;stroke-width:0.25px">ID(t)</text>
<path d="M408.2,118.70H467.2" stroke="#ec6f2e" stroke-width="3.90"/>
<text x="471.0" y="126.60" font-size="17.5" letter-spacing="0.25" fill="#222222" style="stroke:#222222;stroke-width:0.25px">IR(t)</text>
<path d="M408.2,142.60H467.2" stroke="#17ee17" stroke-width="3.90"/>
<text x="471.0" y="150.50" font-size="17.5" letter-spacing="0.25" fill="#222222" style="stroke:#222222;stroke-width:0.25px">IT(t)</text>
<path d="M408.2,167.00H467.2" stroke="#e80ee8" stroke-width="3.90"/>
<text x="471.0" y="174.90" font-size="17.5" letter-spacing="0.25" fill="#222222" style="stroke:#222222;stroke-width:0.25px">R(t)</text></g><use href="#main" filter="url(#fb)" opacity="0.30"/></svg>
</body></html>
